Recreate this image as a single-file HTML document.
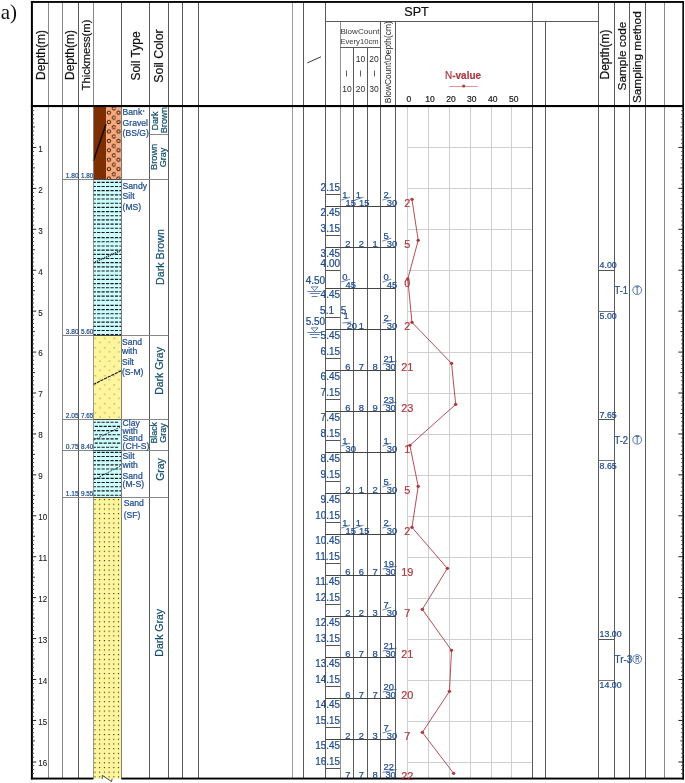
<!DOCTYPE html>
<html lang="en">
<head>
<meta charset="utf-8">
<title>Boring log</title>
<style>
html,body{margin:0;padding:0;background:#fff;}
body{width:685px;height:783px;overflow:hidden;font-family:"Liberation Sans",sans-serif;}
svg{display:block;will-change:transform;font-family:"Liberation Sans",sans-serif;}
svg text{font-family:"Liberation Sans",sans-serif;stroke-width:0.22px;stroke:currentColor;}
</style>
</head>
<body>
<svg width="685" height="783" viewBox="0 0 685 783" shape-rendering="auto">
<defs>
<pattern id="pGravel" x="106" y="103.3" width="9.6" height="9.4" patternUnits="userSpaceOnUse"><rect width="9.6" height="9.4" fill="#f9a97c"/><circle cx="7.9" cy="5.05" r="1.72" fill="none" stroke="#1c0c04" stroke-width="0.9"/><circle cx="2.9" cy="9.4" r="1.72" fill="none" stroke="#1c0c04" stroke-width="0.9"/><circle cx="2.9" cy="0" r="1.72" fill="none" stroke="#1c0c04" stroke-width="0.9"/><circle cx="12.5" cy="9.4" r="1.72" fill="none" stroke="#1c0c04" stroke-width="0.9"/><circle cx="12.5" cy="0" r="1.72" fill="none" stroke="#1c0c04" stroke-width="0.9"/></pattern>
<pattern id="pSandS" x="88.65" y="336.7" width="9.4" height="9.33" patternUnits="userSpaceOnUse"><rect width="9.4" height="9.33" fill="#fff59c"/><rect x="6.2" y="1.25" width="0.95" height="0.95" fill="#5f5a38"/><rect x="1.5" y="5.25" width="0.95" height="0.95" fill="#5f5a38"/></pattern>
<pattern id="pSandF" x="92.6" y="497.15" width="4.72" height="4.70" patternUnits="userSpaceOnUse"><rect width="4.72" height="4.70" fill="#fff59c"/><rect x="1.8" y="1.9" width="1.1" height="1.1" fill="#222"/></pattern>
</defs>
<rect x="0" y="0" width="685" height="783" fill="#fff"/>
<text x="0.8" y="19.1" style="font-family:'Liberation Serif',serif;stroke:none" font-size="21" fill="#111">a)</text>
<line x1="407.5" y1="106" x2="407.5" y2="778.5" stroke="#cfcfcf" stroke-width="1" />
<line x1="428.5" y1="106" x2="428.5" y2="778.5" stroke="#cfcfcf" stroke-width="1" />
<line x1="449.5" y1="106" x2="449.5" y2="778.5" stroke="#cfcfcf" stroke-width="1" />
<line x1="470.5" y1="106" x2="470.5" y2="778.5" stroke="#cfcfcf" stroke-width="1" />
<line x1="491.5" y1="106" x2="491.5" y2="778.5" stroke="#cfcfcf" stroke-width="1" />
<line x1="511.5" y1="106" x2="511.5" y2="778.5" stroke="#cfcfcf" stroke-width="1" />
<line x1="407.8" y1="147.5" x2="532.6" y2="147.5" stroke="#cfcfcf" stroke-width="1" />
<line x1="407.8" y1="188.5" x2="532.6" y2="188.5" stroke="#cfcfcf" stroke-width="1" />
<line x1="407.8" y1="229.5" x2="532.6" y2="229.5" stroke="#cfcfcf" stroke-width="1" />
<line x1="407.8" y1="270.5" x2="532.6" y2="270.5" stroke="#cfcfcf" stroke-width="1" />
<line x1="407.8" y1="311.5" x2="532.6" y2="311.5" stroke="#cfcfcf" stroke-width="1" />
<line x1="407.8" y1="352.5" x2="532.6" y2="352.5" stroke="#cfcfcf" stroke-width="1" />
<line x1="407.8" y1="393.5" x2="532.6" y2="393.5" stroke="#cfcfcf" stroke-width="1" />
<line x1="407.8" y1="434.5" x2="532.6" y2="434.5" stroke="#cfcfcf" stroke-width="1" />
<line x1="407.8" y1="475.5" x2="532.6" y2="475.5" stroke="#cfcfcf" stroke-width="1" />
<line x1="407.8" y1="516.5" x2="532.6" y2="516.5" stroke="#cfcfcf" stroke-width="1" />
<line x1="407.8" y1="557.5" x2="532.6" y2="557.5" stroke="#cfcfcf" stroke-width="1" />
<line x1="407.8" y1="598.5" x2="532.6" y2="598.5" stroke="#cfcfcf" stroke-width="1" />
<line x1="407.8" y1="639.5" x2="532.6" y2="639.5" stroke="#cfcfcf" stroke-width="1" />
<line x1="407.8" y1="680.5" x2="532.6" y2="680.5" stroke="#cfcfcf" stroke-width="1" />
<line x1="407.8" y1="721.5" x2="532.6" y2="721.5" stroke="#cfcfcf" stroke-width="1" />
<line x1="407.8" y1="762.5" x2="532.6" y2="762.5" stroke="#cfcfcf" stroke-width="1" />
<rect x="93.3" y="106" width="12.700000000000003" height="73.6" fill="#7d2e02"/>
<rect x="106.0" y="106" width="15.400000000000006" height="73.6" fill="url(#pGravel)"/>
<line x1="93.3" y1="161.1" x2="106.0" y2="124.3" stroke="#120600" stroke-width="1.45" />
<rect x="93.3" y="179.6" width="28.10000000000001" height="156.00000000000003" fill="#ccffff"/>
<line x1="93.3" y1="182.3" x2="121.25" y2="182.3" stroke="#1a1a1a" stroke-width="1.15" stroke-dasharray="3.2 1.25" stroke-dashoffset="0.65"/>
<line x1="93.3" y1="186.48" x2="121.25" y2="186.48" stroke="#1a1a1a" stroke-width="1.15" stroke-dasharray="3.2 1.25" stroke-dashoffset="0.65"/>
<line x1="93.3" y1="190.66" x2="121.25" y2="190.66" stroke="#1a1a1a" stroke-width="1.15" stroke-dasharray="3.2 1.25" stroke-dashoffset="0.65"/>
<line x1="93.3" y1="194.84" x2="121.25" y2="194.84" stroke="#1a1a1a" stroke-width="1.15" stroke-dasharray="3.2 1.25" stroke-dashoffset="0.65"/>
<line x1="93.3" y1="199.02" x2="121.25" y2="199.02" stroke="#1a1a1a" stroke-width="1.15" stroke-dasharray="3.2 1.25" stroke-dashoffset="0.65"/>
<line x1="93.3" y1="203.2" x2="121.25" y2="203.2" stroke="#1a1a1a" stroke-width="1.15" stroke-dasharray="3.2 1.25" stroke-dashoffset="0.65"/>
<line x1="93.3" y1="207.38" x2="121.25" y2="207.38" stroke="#1a1a1a" stroke-width="1.15" stroke-dasharray="3.2 1.25" stroke-dashoffset="0.65"/>
<line x1="93.3" y1="211.56" x2="121.25" y2="211.56" stroke="#1a1a1a" stroke-width="1.15" stroke-dasharray="3.2 1.25" stroke-dashoffset="0.65"/>
<line x1="93.3" y1="215.74" x2="121.25" y2="215.74" stroke="#1a1a1a" stroke-width="1.15" stroke-dasharray="3.2 1.25" stroke-dashoffset="0.65"/>
<line x1="93.3" y1="219.92" x2="121.25" y2="219.92" stroke="#1a1a1a" stroke-width="1.15" stroke-dasharray="3.2 1.25" stroke-dashoffset="0.65"/>
<line x1="93.3" y1="224.1" x2="121.25" y2="224.1" stroke="#1a1a1a" stroke-width="1.15" stroke-dasharray="3.2 1.25" stroke-dashoffset="0.65"/>
<line x1="93.3" y1="228.28" x2="121.25" y2="228.28" stroke="#1a1a1a" stroke-width="1.15" stroke-dasharray="3.2 1.25" stroke-dashoffset="0.65"/>
<line x1="93.3" y1="232.46" x2="121.25" y2="232.46" stroke="#1a1a1a" stroke-width="1.15" stroke-dasharray="3.2 1.25" stroke-dashoffset="0.65"/>
<line x1="93.3" y1="237.59" x2="121.25" y2="237.59" stroke="#1a1a1a" stroke-width="1.15" stroke-dasharray="3.2 1.25" stroke-dashoffset="0.65"/>
<line x1="93.3" y1="241.77" x2="121.25" y2="241.77" stroke="#1a1a1a" stroke-width="1.15" stroke-dasharray="3.2 1.25" stroke-dashoffset="0.65"/>
<line x1="93.3" y1="245.95" x2="121.25" y2="245.95" stroke="#1a1a1a" stroke-width="1.15" stroke-dasharray="3.2 1.25" stroke-dashoffset="0.65"/>
<line x1="93.3" y1="250.13" x2="121.25" y2="250.13" stroke="#1a1a1a" stroke-width="1.15" stroke-dasharray="3.2 1.25" stroke-dashoffset="0.65"/>
<line x1="93.3" y1="254.31" x2="121.25" y2="254.31" stroke="#1a1a1a" stroke-width="1.15" stroke-dasharray="3.2 1.25" stroke-dashoffset="0.65"/>
<line x1="93.3" y1="258.49" x2="121.25" y2="258.49" stroke="#1a1a1a" stroke-width="1.15" stroke-dasharray="3.2 1.25" stroke-dashoffset="0.65"/>
<line x1="93.3" y1="262.67" x2="121.25" y2="262.67" stroke="#1a1a1a" stroke-width="1.15" stroke-dasharray="3.2 1.25" stroke-dashoffset="0.65"/>
<line x1="93.3" y1="266.85" x2="121.25" y2="266.85" stroke="#1a1a1a" stroke-width="1.15" stroke-dasharray="3.2 1.25" stroke-dashoffset="0.65"/>
<line x1="93.3" y1="271.03" x2="121.25" y2="271.03" stroke="#1a1a1a" stroke-width="1.15" stroke-dasharray="3.2 1.25" stroke-dashoffset="0.65"/>
<line x1="93.3" y1="275.21" x2="121.25" y2="275.21" stroke="#1a1a1a" stroke-width="1.15" stroke-dasharray="3.2 1.25" stroke-dashoffset="0.65"/>
<line x1="93.3" y1="279.39" x2="121.25" y2="279.39" stroke="#1a1a1a" stroke-width="1.15" stroke-dasharray="3.2 1.25" stroke-dashoffset="0.65"/>
<line x1="93.3" y1="283.57" x2="121.25" y2="283.57" stroke="#1a1a1a" stroke-width="1.15" stroke-dasharray="3.2 1.25" stroke-dashoffset="0.65"/>
<line x1="93.3" y1="287.75" x2="121.25" y2="287.75" stroke="#1a1a1a" stroke-width="1.15" stroke-dasharray="3.2 1.25" stroke-dashoffset="0.65"/>
<line x1="93.3" y1="291.93" x2="121.25" y2="291.93" stroke="#1a1a1a" stroke-width="1.15" stroke-dasharray="3.2 1.25" stroke-dashoffset="0.65"/>
<line x1="93.3" y1="296.11" x2="121.25" y2="296.11" stroke="#1a1a1a" stroke-width="1.15" stroke-dasharray="3.2 1.25" stroke-dashoffset="0.65"/>
<line x1="93.3" y1="300.29" x2="121.25" y2="300.29" stroke="#1a1a1a" stroke-width="1.15" stroke-dasharray="3.2 1.25" stroke-dashoffset="0.65"/>
<line x1="93.3" y1="305.42" x2="121.25" y2="305.42" stroke="#1a1a1a" stroke-width="1.15" stroke-dasharray="3.2 1.25" stroke-dashoffset="0.65"/>
<line x1="93.3" y1="309.6" x2="121.25" y2="309.6" stroke="#1a1a1a" stroke-width="1.15" stroke-dasharray="3.2 1.25" stroke-dashoffset="0.65"/>
<line x1="93.3" y1="313.78" x2="121.25" y2="313.78" stroke="#1a1a1a" stroke-width="1.15" stroke-dasharray="3.2 1.25" stroke-dashoffset="0.65"/>
<line x1="93.3" y1="317.96" x2="121.25" y2="317.96" stroke="#1a1a1a" stroke-width="1.15" stroke-dasharray="3.2 1.25" stroke-dashoffset="0.65"/>
<line x1="93.3" y1="322.14" x2="121.25" y2="322.14" stroke="#1a1a1a" stroke-width="1.15" stroke-dasharray="3.2 1.25" stroke-dashoffset="0.65"/>
<line x1="93.3" y1="326.32" x2="121.25" y2="326.32" stroke="#1a1a1a" stroke-width="1.15" stroke-dasharray="3.2 1.25" stroke-dashoffset="0.65"/>
<line x1="93.3" y1="330.5" x2="121.25" y2="330.5" stroke="#1a1a1a" stroke-width="1.15" stroke-dasharray="3.2 1.25" stroke-dashoffset="0.65"/>
<line x1="93.3" y1="334.68" x2="121.25" y2="334.68" stroke="#1a1a1a" stroke-width="1.15" stroke-dasharray="3.2 1.25" stroke-dashoffset="0.65"/>
<line x1="93.3" y1="262.9" x2="121.4" y2="250.2" stroke="#3c4646" stroke-width="1.9" stroke-dasharray="1.1 0.9"/>
<rect x="93.3" y="335.6" width="28.10000000000001" height="84.04999999999995" fill="url(#pSandS)"/>
<line x1="93.3" y1="384.4" x2="121.4" y2="370.6" stroke="#111" stroke-width="1.1" stroke-dasharray="3.2 0.8"/>
<rect x="93.3" y="419.65" width="28.10000000000001" height="30.75" fill="#ccffff"/>
<line x1="93.3" y1="422.2" x2="118.2" y2="422.2" stroke="#1a1a1a" stroke-width="1.15" stroke-dasharray="3.2 1.25" stroke-dashoffset="0.65"/>
<line x1="94.7" y1="426.38" x2="120.3" y2="426.38" stroke="#1a1a1a" stroke-width="1.15" stroke-dasharray="3.2 1.25" stroke-dashoffset="0"/>
<line x1="93.3" y1="430.56" x2="118.2" y2="430.56" stroke="#1a1a1a" stroke-width="1.15" stroke-dasharray="3.2 1.25" stroke-dashoffset="0.65"/>
<line x1="94.7" y1="434.74" x2="120.3" y2="434.74" stroke="#1a1a1a" stroke-width="1.15" stroke-dasharray="3.2 1.25" stroke-dashoffset="0"/>
<line x1="93.3" y1="438.92" x2="118.2" y2="438.92" stroke="#1a1a1a" stroke-width="1.15" stroke-dasharray="3.2 1.25" stroke-dashoffset="0.65"/>
<line x1="94.7" y1="443.1" x2="120.3" y2="443.1" stroke="#1a1a1a" stroke-width="1.15" stroke-dasharray="3.2 1.25" stroke-dashoffset="0"/>
<line x1="93.3" y1="447.28" x2="118.2" y2="447.28" stroke="#1a1a1a" stroke-width="1.15" stroke-dasharray="3.2 1.25" stroke-dashoffset="0.65"/>
<line x1="93.3" y1="440.3" x2="120.0" y2="427.1" stroke="#222" stroke-width="0.8" stroke-dasharray="2.2 1"/>
<rect x="93.3" y="450.4" width="28.10000000000001" height="47.150000000000034" fill="#ccffff"/>
<line x1="93.3" y1="452.4" x2="121.25" y2="452.4" stroke="#1a1a1a" stroke-width="1.15" stroke-dasharray="3.2 1.25" stroke-dashoffset="0.65"/>
<line x1="93.3" y1="456.5" x2="121.25" y2="456.5" stroke="#1a1a1a" stroke-width="1.15" stroke-dasharray="3.2 1.25" stroke-dashoffset="0.65"/>
<line x1="93.3" y1="460.6" x2="121.25" y2="460.6" stroke="#1a1a1a" stroke-width="1.15" stroke-dasharray="3.2 1.25" stroke-dashoffset="0.65"/>
<line x1="93.3" y1="464.8" x2="121.25" y2="464.8" stroke="#1a1a1a" stroke-width="1.15" stroke-dasharray="3.2 1.25" stroke-dashoffset="0.65"/>
<line x1="93.3" y1="469.0" x2="121.25" y2="469.0" stroke="#1a1a1a" stroke-width="1.15" stroke-dasharray="3.2 1.25" stroke-dashoffset="0.65"/>
<line x1="93.3" y1="474.3" x2="121.25" y2="474.3" stroke="#1a1a1a" stroke-width="1.15" stroke-dasharray="3.2 1.25" stroke-dashoffset="0.65"/>
<line x1="93.3" y1="478.4" x2="121.25" y2="478.4" stroke="#1a1a1a" stroke-width="1.15" stroke-dasharray="3.2 1.25" stroke-dashoffset="0.65"/>
<line x1="93.3" y1="482.5" x2="121.25" y2="482.5" stroke="#1a1a1a" stroke-width="1.15" stroke-dasharray="3.2 1.25" stroke-dashoffset="0.65"/>
<line x1="93.3" y1="486.7" x2="121.25" y2="486.7" stroke="#1a1a1a" stroke-width="1.15" stroke-dasharray="3.2 1.25" stroke-dashoffset="0.65"/>
<line x1="93.3" y1="490.9" x2="121.25" y2="490.9" stroke="#1a1a1a" stroke-width="1.15" stroke-dasharray="3.2 1.25" stroke-dashoffset="0.65"/>
<line x1="93.3" y1="495.2" x2="121.25" y2="495.2" stroke="#1a1a1a" stroke-width="1.15" stroke-dasharray="3.2 1.25" stroke-dashoffset="0.65"/>
<line x1="93.3" y1="480.1" x2="120.0" y2="466.3" stroke="#222" stroke-width="0.8" stroke-dasharray="2.2 1"/>
<path d="M93.3,497.55 L121.4,497.55 L121.4,778.7 L112.2,778.7 L111.5,781.6 L102.3,775.4 L102.3,778.7 L93.3,778.7 Z" fill="url(#pSandF)"/>
<path d="M102.3,778.9 L102.3,775.4 L111.5,781.6 L112.2,778.7" fill="none" stroke="#222" stroke-width="0.8"/>
<line x1="93.5" y1="106" x2="93.5" y2="778.5" stroke="#808080" stroke-width="0.8" />
<line x1="121.5" y1="106" x2="121.5" y2="778.5" stroke="#707070" stroke-width="0.9" />
<line x1="78.5" y1="2" x2="78.5" y2="778.5" stroke="#5a5a5a" stroke-width="1" />
<line x1="149.5" y1="2" x2="149.5" y2="778.5" stroke="#5a5a5a" stroke-width="1" />
<line x1="168.5" y1="2" x2="168.5" y2="778.5" stroke="#5a5a5a" stroke-width="1" />
<line x1="182.5" y1="2" x2="182.5" y2="778.5" stroke="#5a5a5a" stroke-width="1" />
<line x1="198.5" y1="2" x2="198.5" y2="778.5" stroke="#5a5a5a" stroke-width="1" />
<line x1="303.5" y1="2" x2="303.5" y2="778.5" stroke="#5a5a5a" stroke-width="1" />
<line x1="325.5" y1="2" x2="325.5" y2="778.5" stroke="#5a5a5a" stroke-width="1" />
<line x1="532.5" y1="2" x2="532.5" y2="778.5" stroke="#5a5a5a" stroke-width="1" />
<line x1="598.5" y1="2" x2="598.5" y2="778.5" stroke="#5a5a5a" stroke-width="1" />
<line x1="614.5" y1="2" x2="614.5" y2="778.5" stroke="#5a5a5a" stroke-width="1" />
<line x1="629.5" y1="2" x2="629.5" y2="778.5" stroke="#5a5a5a" stroke-width="1" />
<line x1="645.5" y1="2" x2="645.5" y2="778.5" stroke="#5a5a5a" stroke-width="1" />
<line x1="48.5" y1="2" x2="48.5" y2="778.5" stroke="#888" stroke-width="1" />
<line x1="62.5" y1="2" x2="62.5" y2="778.5" stroke="#888" stroke-width="1" />
<line x1="664.5" y1="2" x2="664.5" y2="778.5" stroke="#888" stroke-width="1" />
<line x1="292.5" y1="2" x2="292.5" y2="778.5" stroke="#9a9a9a" stroke-width="1" />
<line x1="93.5" y1="2" x2="93.5" y2="106" stroke="#888" stroke-width="1" />
<line x1="121.5" y1="2" x2="121.5" y2="106" stroke="#5a5a5a" stroke-width="1" />
<line x1="340.5" y1="21.4" x2="340.5" y2="778.5" stroke="#909090" stroke-width="1" />
<line x1="380.5" y1="21.4" x2="380.5" y2="778.5" stroke="#5a5a5a" stroke-width="1" />
<line x1="395.5" y1="21.4" x2="395.5" y2="778.5" stroke="#5a5a5a" stroke-width="1" />
<line x1="545.5" y1="21.4" x2="545.5" y2="778.5" stroke="#5a5a5a" stroke-width="1" />
<line x1="353.5" y1="47.3" x2="353.5" y2="778.5" stroke="#5a5a5a" stroke-width="1" />
<line x1="367.5" y1="47.3" x2="367.5" y2="778.5" stroke="#5a5a5a" stroke-width="1" />
<line x1="325.7" y1="21.5" x2="598.7" y2="21.5" stroke="#5a5a5a" stroke-width="1" />
<line x1="340.2" y1="47.5" x2="380.9" y2="47.5" stroke="#5a5a5a" stroke-width="1" />
<rect x="30.9" y="1.05" width="2.0" height="778.4" fill="#000"/>
<rect x="30.9" y="1.05" width="653.0" height="1.85" fill="#000"/>
<rect x="682.35" y="1.05" width="1.6" height="778.4" fill="#000"/>
<rect x="30.9" y="777.6" width="62.4" height="1.9" fill="#000"/>
<rect x="121.4" y="777.6" width="562.5500000000001" height="1.9" fill="#000"/>
<rect x="30.9" y="105.0" width="653.0" height="2.1" fill="#000"/>
<text transform="translate(44.6,55) rotate(-90)" font-size="12" fill="#111" color="#111" text-anchor="middle" >Depth(m)</text>
<text transform="translate(74.2,55) rotate(-90)" font-size="12" fill="#111" color="#111" text-anchor="middle" >Depth(m)</text>
<text transform="translate(90.2,55) rotate(-90)" font-size="11.3" fill="#111" color="#111" text-anchor="middle" >Thickmess(m)</text>
<text transform="translate(139.6,56) rotate(-90)" font-size="12" fill="#111" color="#111" text-anchor="middle" >Soil Type</text>
<text transform="translate(162.6,56) rotate(-90)" font-size="12.3" fill="#111" color="#111" text-anchor="middle" >Soil Color</text>
<text transform="translate(609.3,54.5) rotate(-90)" font-size="12" fill="#111" color="#111" text-anchor="middle" >Depth(m)</text>
<text transform="translate(625.7,56) rotate(-90)" font-size="11.8" fill="#111" color="#111" text-anchor="middle" >Sample code</text>
<text transform="translate(640.8,57.2) rotate(-90)" font-size="11.8" fill="#111" color="#111" text-anchor="middle" >Sampling method</text>
<text x="416.5" y="15.6" font-size="12.6" fill="#111" color="#111" text-anchor="middle" >SPT</text>
<line x1="307.3" y1="62.9" x2="321.0" y2="56.8" stroke="#222" stroke-width="0.9" />
<text x="340.4" y="34.2" font-size="8.1" fill="#3a3a3a" color="#3a3a3a" text-anchor="start" style="stroke:none">BlowCount</text>
<text x="340.4" y="43.5" font-size="8.1" fill="#3a3a3a" color="#3a3a3a" text-anchor="start" textLength="38.2" lengthAdjust="spacingAndGlyphs" style="stroke:none">Every10cm</text>
<line x1="346.5" y1="70.5" x2="346.5" y2="76.5" stroke="#333" stroke-width="0.8" />
<text x="346.9" y="92" font-size="8.5" fill="#2a2a2a" color="#2a2a2a" text-anchor="middle" style="stroke:none">10</text>
<text x="360.4" y="61.9" font-size="8.5" fill="#2a2a2a" color="#2a2a2a" text-anchor="middle" style="stroke:none">10</text>
<line x1="360.5" y1="70.5" x2="360.5" y2="76.5" stroke="#333" stroke-width="0.8" />
<text x="360.4" y="92" font-size="8.5" fill="#2a2a2a" color="#2a2a2a" text-anchor="middle" style="stroke:none">20</text>
<text x="374.1" y="61.9" font-size="8.5" fill="#2a2a2a" color="#2a2a2a" text-anchor="middle" style="stroke:none">20</text>
<line x1="374.5" y1="70.5" x2="374.5" y2="76.5" stroke="#333" stroke-width="0.8" />
<text x="374.1" y="92" font-size="8.5" fill="#2a2a2a" color="#2a2a2a" text-anchor="middle" style="stroke:none">30</text>
<text transform="translate(391.0,62.2) rotate(-90)" font-size="8.4" fill="#2a2a2a" color="#2a2a2a" text-anchor="middle" style="stroke:none">BlowCount\Depth(cm)</text>
<text x="445.1" y="79.4" font-size="11.2" fill="#ad3a40" color="#ad3a40" textLength="35.9" lengthAdjust="spacingAndGlyphs"><tspan>N</tspan><tspan font-weight="bold">-value</tspan></text>
<line x1="449.2" y1="86.5" x2="477.8" y2="86.5" stroke="#d99" stroke-width="1" />
<circle cx="463.7" cy="86" r="1.6" fill="#ad3a40"/>
<text x="408.9" y="102.4" font-size="8.5" fill="#222" color="#222" text-anchor="middle" >0</text>
<text x="429.9" y="102.4" font-size="8.5" fill="#222" color="#222" text-anchor="middle" >10</text>
<text x="450.9" y="102.4" font-size="8.5" fill="#222" color="#222" text-anchor="middle" >20</text>
<text x="471.8" y="102.4" font-size="8.5" fill="#222" color="#222" text-anchor="middle" >30</text>
<text x="492.8" y="102.4" font-size="8.5" fill="#222" color="#222" text-anchor="middle" >40</text>
<text x="513.8" y="102.4" font-size="8.5" fill="#222" color="#222" text-anchor="middle" >50</text>
<line x1="32" y1="110.59" x2="34.1" y2="110.59" stroke="#444" stroke-width="1"/>
<line x1="683.2" y1="110.59" x2="681.2" y2="110.59" stroke="#444" stroke-width="1"/>
<line x1="32" y1="114.69" x2="34.1" y2="114.69" stroke="#444" stroke-width="1"/>
<line x1="683.2" y1="114.69" x2="681.2" y2="114.69" stroke="#444" stroke-width="1"/>
<line x1="32" y1="118.78" x2="34.1" y2="118.78" stroke="#444" stroke-width="1"/>
<line x1="683.2" y1="118.78" x2="681.2" y2="118.78" stroke="#444" stroke-width="1"/>
<line x1="32" y1="122.87" x2="34.1" y2="122.87" stroke="#444" stroke-width="1"/>
<line x1="683.2" y1="122.87" x2="681.2" y2="122.87" stroke="#444" stroke-width="1"/>
<line x1="32" y1="126.97" x2="35.0" y2="126.97" stroke="#333" stroke-width="1"/>
<line x1="683.2" y1="126.97" x2="680.3" y2="126.97" stroke="#333" stroke-width="1"/>
<line x1="32" y1="131.06" x2="34.1" y2="131.06" stroke="#444" stroke-width="1"/>
<line x1="683.2" y1="131.06" x2="681.2" y2="131.06" stroke="#444" stroke-width="1"/>
<line x1="32" y1="135.15" x2="34.1" y2="135.15" stroke="#444" stroke-width="1"/>
<line x1="683.2" y1="135.15" x2="681.2" y2="135.15" stroke="#444" stroke-width="1"/>
<line x1="32" y1="139.24" x2="34.1" y2="139.24" stroke="#444" stroke-width="1"/>
<line x1="683.2" y1="139.24" x2="681.2" y2="139.24" stroke="#444" stroke-width="1"/>
<line x1="32" y1="143.34" x2="34.1" y2="143.34" stroke="#444" stroke-width="1"/>
<line x1="683.2" y1="143.34" x2="681.2" y2="143.34" stroke="#444" stroke-width="1"/>
<line x1="32" y1="147.43" x2="36.2" y2="147.43" stroke="#222" stroke-width="1"/>
<line x1="683.2" y1="147.43" x2="678.4" y2="147.43" stroke="#222" stroke-width="1"/>
<text x="38.3" y="151.83" font-size="8.8" fill="#1a1a1a" color="#1a1a1a" text-anchor="start" textLength="4.5" lengthAdjust="spacingAndGlyphs" style="stroke-width:0.1px">1</text>
<line x1="32" y1="151.52" x2="34.1" y2="151.52" stroke="#444" stroke-width="1"/>
<line x1="683.2" y1="151.52" x2="681.2" y2="151.52" stroke="#444" stroke-width="1"/>
<line x1="32" y1="155.62" x2="34.1" y2="155.62" stroke="#444" stroke-width="1"/>
<line x1="683.2" y1="155.62" x2="681.2" y2="155.62" stroke="#444" stroke-width="1"/>
<line x1="32" y1="159.71" x2="34.1" y2="159.71" stroke="#444" stroke-width="1"/>
<line x1="683.2" y1="159.71" x2="681.2" y2="159.71" stroke="#444" stroke-width="1"/>
<line x1="32" y1="163.8" x2="34.1" y2="163.8" stroke="#444" stroke-width="1"/>
<line x1="683.2" y1="163.8" x2="681.2" y2="163.8" stroke="#444" stroke-width="1"/>
<line x1="32" y1="167.89" x2="35.0" y2="167.89" stroke="#333" stroke-width="1"/>
<line x1="683.2" y1="167.89" x2="680.3" y2="167.89" stroke="#333" stroke-width="1"/>
<line x1="32" y1="171.99" x2="34.1" y2="171.99" stroke="#444" stroke-width="1"/>
<line x1="683.2" y1="171.99" x2="681.2" y2="171.99" stroke="#444" stroke-width="1"/>
<line x1="32" y1="176.08" x2="34.1" y2="176.08" stroke="#444" stroke-width="1"/>
<line x1="683.2" y1="176.08" x2="681.2" y2="176.08" stroke="#444" stroke-width="1"/>
<line x1="32" y1="180.17" x2="34.1" y2="180.17" stroke="#444" stroke-width="1"/>
<line x1="683.2" y1="180.17" x2="681.2" y2="180.17" stroke="#444" stroke-width="1"/>
<line x1="32" y1="184.27" x2="34.1" y2="184.27" stroke="#444" stroke-width="1"/>
<line x1="683.2" y1="184.27" x2="681.2" y2="184.27" stroke="#444" stroke-width="1"/>
<line x1="32" y1="188.36" x2="36.2" y2="188.36" stroke="#222" stroke-width="1"/>
<line x1="683.2" y1="188.36" x2="678.4" y2="188.36" stroke="#222" stroke-width="1"/>
<text x="38.3" y="192.76" font-size="8.8" fill="#1a1a1a" color="#1a1a1a" text-anchor="start" textLength="4.5" lengthAdjust="spacingAndGlyphs" style="stroke-width:0.1px">2</text>
<line x1="32" y1="192.45" x2="34.1" y2="192.45" stroke="#444" stroke-width="1"/>
<line x1="683.2" y1="192.45" x2="681.2" y2="192.45" stroke="#444" stroke-width="1"/>
<line x1="32" y1="196.55" x2="34.1" y2="196.55" stroke="#444" stroke-width="1"/>
<line x1="683.2" y1="196.55" x2="681.2" y2="196.55" stroke="#444" stroke-width="1"/>
<line x1="32" y1="200.64" x2="34.1" y2="200.64" stroke="#444" stroke-width="1"/>
<line x1="683.2" y1="200.64" x2="681.2" y2="200.64" stroke="#444" stroke-width="1"/>
<line x1="32" y1="204.73" x2="34.1" y2="204.73" stroke="#444" stroke-width="1"/>
<line x1="683.2" y1="204.73" x2="681.2" y2="204.73" stroke="#444" stroke-width="1"/>
<line x1="32" y1="208.82" x2="35.0" y2="208.82" stroke="#333" stroke-width="1"/>
<line x1="683.2" y1="208.82" x2="680.3" y2="208.82" stroke="#333" stroke-width="1"/>
<line x1="32" y1="212.92" x2="34.1" y2="212.92" stroke="#444" stroke-width="1"/>
<line x1="683.2" y1="212.92" x2="681.2" y2="212.92" stroke="#444" stroke-width="1"/>
<line x1="32" y1="217.01" x2="34.1" y2="217.01" stroke="#444" stroke-width="1"/>
<line x1="683.2" y1="217.01" x2="681.2" y2="217.01" stroke="#444" stroke-width="1"/>
<line x1="32" y1="221.1" x2="34.1" y2="221.1" stroke="#444" stroke-width="1"/>
<line x1="683.2" y1="221.1" x2="681.2" y2="221.1" stroke="#444" stroke-width="1"/>
<line x1="32" y1="225.2" x2="34.1" y2="225.2" stroke="#444" stroke-width="1"/>
<line x1="683.2" y1="225.2" x2="681.2" y2="225.2" stroke="#444" stroke-width="1"/>
<line x1="32" y1="229.29" x2="36.2" y2="229.29" stroke="#222" stroke-width="1"/>
<line x1="683.2" y1="229.29" x2="678.4" y2="229.29" stroke="#222" stroke-width="1"/>
<text x="38.3" y="233.69" font-size="8.8" fill="#1a1a1a" color="#1a1a1a" text-anchor="start" textLength="4.5" lengthAdjust="spacingAndGlyphs" style="stroke-width:0.1px">3</text>
<line x1="32" y1="233.38" x2="34.1" y2="233.38" stroke="#444" stroke-width="1"/>
<line x1="683.2" y1="233.38" x2="681.2" y2="233.38" stroke="#444" stroke-width="1"/>
<line x1="32" y1="237.48" x2="34.1" y2="237.48" stroke="#444" stroke-width="1"/>
<line x1="683.2" y1="237.48" x2="681.2" y2="237.48" stroke="#444" stroke-width="1"/>
<line x1="32" y1="241.57" x2="34.1" y2="241.57" stroke="#444" stroke-width="1"/>
<line x1="683.2" y1="241.57" x2="681.2" y2="241.57" stroke="#444" stroke-width="1"/>
<line x1="32" y1="245.66" x2="34.1" y2="245.66" stroke="#444" stroke-width="1"/>
<line x1="683.2" y1="245.66" x2="681.2" y2="245.66" stroke="#444" stroke-width="1"/>
<line x1="32" y1="249.75" x2="35.0" y2="249.75" stroke="#333" stroke-width="1"/>
<line x1="683.2" y1="249.75" x2="680.3" y2="249.75" stroke="#333" stroke-width="1"/>
<line x1="32" y1="253.85" x2="34.1" y2="253.85" stroke="#444" stroke-width="1"/>
<line x1="683.2" y1="253.85" x2="681.2" y2="253.85" stroke="#444" stroke-width="1"/>
<line x1="32" y1="257.94" x2="34.1" y2="257.94" stroke="#444" stroke-width="1"/>
<line x1="683.2" y1="257.94" x2="681.2" y2="257.94" stroke="#444" stroke-width="1"/>
<line x1="32" y1="262.03" x2="34.1" y2="262.03" stroke="#444" stroke-width="1"/>
<line x1="683.2" y1="262.03" x2="681.2" y2="262.03" stroke="#444" stroke-width="1"/>
<line x1="32" y1="266.13" x2="34.1" y2="266.13" stroke="#444" stroke-width="1"/>
<line x1="683.2" y1="266.13" x2="681.2" y2="266.13" stroke="#444" stroke-width="1"/>
<line x1="32" y1="270.22" x2="36.2" y2="270.22" stroke="#222" stroke-width="1"/>
<line x1="683.2" y1="270.22" x2="678.4" y2="270.22" stroke="#222" stroke-width="1"/>
<text x="38.3" y="274.62" font-size="8.8" fill="#1a1a1a" color="#1a1a1a" text-anchor="start" textLength="4.5" lengthAdjust="spacingAndGlyphs" style="stroke-width:0.1px">4</text>
<line x1="32" y1="274.31" x2="34.1" y2="274.31" stroke="#444" stroke-width="1"/>
<line x1="683.2" y1="274.31" x2="681.2" y2="274.31" stroke="#444" stroke-width="1"/>
<line x1="32" y1="278.41" x2="34.1" y2="278.41" stroke="#444" stroke-width="1"/>
<line x1="683.2" y1="278.41" x2="681.2" y2="278.41" stroke="#444" stroke-width="1"/>
<line x1="32" y1="282.5" x2="34.1" y2="282.5" stroke="#444" stroke-width="1"/>
<line x1="683.2" y1="282.5" x2="681.2" y2="282.5" stroke="#444" stroke-width="1"/>
<line x1="32" y1="286.59" x2="34.1" y2="286.59" stroke="#444" stroke-width="1"/>
<line x1="683.2" y1="286.59" x2="681.2" y2="286.59" stroke="#444" stroke-width="1"/>
<line x1="32" y1="290.69" x2="35.0" y2="290.69" stroke="#333" stroke-width="1"/>
<line x1="683.2" y1="290.69" x2="680.3" y2="290.69" stroke="#333" stroke-width="1"/>
<line x1="32" y1="294.78" x2="34.1" y2="294.78" stroke="#444" stroke-width="1"/>
<line x1="683.2" y1="294.78" x2="681.2" y2="294.78" stroke="#444" stroke-width="1"/>
<line x1="32" y1="298.87" x2="34.1" y2="298.87" stroke="#444" stroke-width="1"/>
<line x1="683.2" y1="298.87" x2="681.2" y2="298.87" stroke="#444" stroke-width="1"/>
<line x1="32" y1="302.96" x2="34.1" y2="302.96" stroke="#444" stroke-width="1"/>
<line x1="683.2" y1="302.96" x2="681.2" y2="302.96" stroke="#444" stroke-width="1"/>
<line x1="32" y1="307.06" x2="34.1" y2="307.06" stroke="#444" stroke-width="1"/>
<line x1="683.2" y1="307.06" x2="681.2" y2="307.06" stroke="#444" stroke-width="1"/>
<line x1="32" y1="311.15" x2="36.2" y2="311.15" stroke="#222" stroke-width="1"/>
<line x1="683.2" y1="311.15" x2="678.4" y2="311.15" stroke="#222" stroke-width="1"/>
<text x="38.3" y="315.55" font-size="8.8" fill="#1a1a1a" color="#1a1a1a" text-anchor="start" textLength="4.5" lengthAdjust="spacingAndGlyphs" style="stroke-width:0.1px">5</text>
<line x1="32" y1="315.24" x2="34.1" y2="315.24" stroke="#444" stroke-width="1"/>
<line x1="683.2" y1="315.24" x2="681.2" y2="315.24" stroke="#444" stroke-width="1"/>
<line x1="32" y1="319.34" x2="34.1" y2="319.34" stroke="#444" stroke-width="1"/>
<line x1="683.2" y1="319.34" x2="681.2" y2="319.34" stroke="#444" stroke-width="1"/>
<line x1="32" y1="323.43" x2="34.1" y2="323.43" stroke="#444" stroke-width="1"/>
<line x1="683.2" y1="323.43" x2="681.2" y2="323.43" stroke="#444" stroke-width="1"/>
<line x1="32" y1="327.52" x2="34.1" y2="327.52" stroke="#444" stroke-width="1"/>
<line x1="683.2" y1="327.52" x2="681.2" y2="327.52" stroke="#444" stroke-width="1"/>
<line x1="32" y1="331.62" x2="35.0" y2="331.62" stroke="#333" stroke-width="1"/>
<line x1="683.2" y1="331.62" x2="680.3" y2="331.62" stroke="#333" stroke-width="1"/>
<line x1="32" y1="335.71" x2="34.1" y2="335.71" stroke="#444" stroke-width="1"/>
<line x1="683.2" y1="335.71" x2="681.2" y2="335.71" stroke="#444" stroke-width="1"/>
<line x1="32" y1="339.8" x2="34.1" y2="339.8" stroke="#444" stroke-width="1"/>
<line x1="683.2" y1="339.8" x2="681.2" y2="339.8" stroke="#444" stroke-width="1"/>
<line x1="32" y1="343.89" x2="34.1" y2="343.89" stroke="#444" stroke-width="1"/>
<line x1="683.2" y1="343.89" x2="681.2" y2="343.89" stroke="#444" stroke-width="1"/>
<line x1="32" y1="347.99" x2="34.1" y2="347.99" stroke="#444" stroke-width="1"/>
<line x1="683.2" y1="347.99" x2="681.2" y2="347.99" stroke="#444" stroke-width="1"/>
<line x1="32" y1="352.08" x2="36.2" y2="352.08" stroke="#222" stroke-width="1"/>
<line x1="683.2" y1="352.08" x2="678.4" y2="352.08" stroke="#222" stroke-width="1"/>
<text x="38.3" y="356.48" font-size="8.8" fill="#1a1a1a" color="#1a1a1a" text-anchor="start" textLength="4.5" lengthAdjust="spacingAndGlyphs" style="stroke-width:0.1px">6</text>
<line x1="32" y1="356.17" x2="34.1" y2="356.17" stroke="#444" stroke-width="1"/>
<line x1="683.2" y1="356.17" x2="681.2" y2="356.17" stroke="#444" stroke-width="1"/>
<line x1="32" y1="360.27" x2="34.1" y2="360.27" stroke="#444" stroke-width="1"/>
<line x1="683.2" y1="360.27" x2="681.2" y2="360.27" stroke="#444" stroke-width="1"/>
<line x1="32" y1="364.36" x2="34.1" y2="364.36" stroke="#444" stroke-width="1"/>
<line x1="683.2" y1="364.36" x2="681.2" y2="364.36" stroke="#444" stroke-width="1"/>
<line x1="32" y1="368.45" x2="34.1" y2="368.45" stroke="#444" stroke-width="1"/>
<line x1="683.2" y1="368.45" x2="681.2" y2="368.45" stroke="#444" stroke-width="1"/>
<line x1="32" y1="372.55" x2="35.0" y2="372.55" stroke="#333" stroke-width="1"/>
<line x1="683.2" y1="372.55" x2="680.3" y2="372.55" stroke="#333" stroke-width="1"/>
<line x1="32" y1="376.64" x2="34.1" y2="376.64" stroke="#444" stroke-width="1"/>
<line x1="683.2" y1="376.64" x2="681.2" y2="376.64" stroke="#444" stroke-width="1"/>
<line x1="32" y1="380.73" x2="34.1" y2="380.73" stroke="#444" stroke-width="1"/>
<line x1="683.2" y1="380.73" x2="681.2" y2="380.73" stroke="#444" stroke-width="1"/>
<line x1="32" y1="384.82" x2="34.1" y2="384.82" stroke="#444" stroke-width="1"/>
<line x1="683.2" y1="384.82" x2="681.2" y2="384.82" stroke="#444" stroke-width="1"/>
<line x1="32" y1="388.92" x2="34.1" y2="388.92" stroke="#444" stroke-width="1"/>
<line x1="683.2" y1="388.92" x2="681.2" y2="388.92" stroke="#444" stroke-width="1"/>
<line x1="32" y1="393.01" x2="36.2" y2="393.01" stroke="#222" stroke-width="1"/>
<line x1="683.2" y1="393.01" x2="678.4" y2="393.01" stroke="#222" stroke-width="1"/>
<text x="38.3" y="397.41" font-size="8.8" fill="#1a1a1a" color="#1a1a1a" text-anchor="start" textLength="4.5" lengthAdjust="spacingAndGlyphs" style="stroke-width:0.1px">7</text>
<line x1="32" y1="397.1" x2="34.1" y2="397.1" stroke="#444" stroke-width="1"/>
<line x1="683.2" y1="397.1" x2="681.2" y2="397.1" stroke="#444" stroke-width="1"/>
<line x1="32" y1="401.2" x2="34.1" y2="401.2" stroke="#444" stroke-width="1"/>
<line x1="683.2" y1="401.2" x2="681.2" y2="401.2" stroke="#444" stroke-width="1"/>
<line x1="32" y1="405.29" x2="34.1" y2="405.29" stroke="#444" stroke-width="1"/>
<line x1="683.2" y1="405.29" x2="681.2" y2="405.29" stroke="#444" stroke-width="1"/>
<line x1="32" y1="409.38" x2="34.1" y2="409.38" stroke="#444" stroke-width="1"/>
<line x1="683.2" y1="409.38" x2="681.2" y2="409.38" stroke="#444" stroke-width="1"/>
<line x1="32" y1="413.48" x2="35.0" y2="413.48" stroke="#333" stroke-width="1"/>
<line x1="683.2" y1="413.48" x2="680.3" y2="413.48" stroke="#333" stroke-width="1"/>
<line x1="32" y1="417.57" x2="34.1" y2="417.57" stroke="#444" stroke-width="1"/>
<line x1="683.2" y1="417.57" x2="681.2" y2="417.57" stroke="#444" stroke-width="1"/>
<line x1="32" y1="421.66" x2="34.1" y2="421.66" stroke="#444" stroke-width="1"/>
<line x1="683.2" y1="421.66" x2="681.2" y2="421.66" stroke="#444" stroke-width="1"/>
<line x1="32" y1="425.75" x2="34.1" y2="425.75" stroke="#444" stroke-width="1"/>
<line x1="683.2" y1="425.75" x2="681.2" y2="425.75" stroke="#444" stroke-width="1"/>
<line x1="32" y1="429.85" x2="34.1" y2="429.85" stroke="#444" stroke-width="1"/>
<line x1="683.2" y1="429.85" x2="681.2" y2="429.85" stroke="#444" stroke-width="1"/>
<line x1="32" y1="433.94" x2="36.2" y2="433.94" stroke="#222" stroke-width="1"/>
<line x1="683.2" y1="433.94" x2="678.4" y2="433.94" stroke="#222" stroke-width="1"/>
<text x="38.3" y="438.34" font-size="8.8" fill="#1a1a1a" color="#1a1a1a" text-anchor="start" textLength="4.5" lengthAdjust="spacingAndGlyphs" style="stroke-width:0.1px">8</text>
<line x1="32" y1="438.03" x2="34.1" y2="438.03" stroke="#444" stroke-width="1"/>
<line x1="683.2" y1="438.03" x2="681.2" y2="438.03" stroke="#444" stroke-width="1"/>
<line x1="32" y1="442.13" x2="34.1" y2="442.13" stroke="#444" stroke-width="1"/>
<line x1="683.2" y1="442.13" x2="681.2" y2="442.13" stroke="#444" stroke-width="1"/>
<line x1="32" y1="446.22" x2="34.1" y2="446.22" stroke="#444" stroke-width="1"/>
<line x1="683.2" y1="446.22" x2="681.2" y2="446.22" stroke="#444" stroke-width="1"/>
<line x1="32" y1="450.31" x2="34.1" y2="450.31" stroke="#444" stroke-width="1"/>
<line x1="683.2" y1="450.31" x2="681.2" y2="450.31" stroke="#444" stroke-width="1"/>
<line x1="32" y1="454.4" x2="35.0" y2="454.4" stroke="#333" stroke-width="1"/>
<line x1="683.2" y1="454.4" x2="680.3" y2="454.4" stroke="#333" stroke-width="1"/>
<line x1="32" y1="458.5" x2="34.1" y2="458.5" stroke="#444" stroke-width="1"/>
<line x1="683.2" y1="458.5" x2="681.2" y2="458.5" stroke="#444" stroke-width="1"/>
<line x1="32" y1="462.59" x2="34.1" y2="462.59" stroke="#444" stroke-width="1"/>
<line x1="683.2" y1="462.59" x2="681.2" y2="462.59" stroke="#444" stroke-width="1"/>
<line x1="32" y1="466.68" x2="34.1" y2="466.68" stroke="#444" stroke-width="1"/>
<line x1="683.2" y1="466.68" x2="681.2" y2="466.68" stroke="#444" stroke-width="1"/>
<line x1="32" y1="470.78" x2="34.1" y2="470.78" stroke="#444" stroke-width="1"/>
<line x1="683.2" y1="470.78" x2="681.2" y2="470.78" stroke="#444" stroke-width="1"/>
<line x1="32" y1="474.87" x2="36.2" y2="474.87" stroke="#222" stroke-width="1"/>
<line x1="683.2" y1="474.87" x2="678.4" y2="474.87" stroke="#222" stroke-width="1"/>
<text x="38.3" y="479.27" font-size="8.8" fill="#1a1a1a" color="#1a1a1a" text-anchor="start" textLength="4.5" lengthAdjust="spacingAndGlyphs" style="stroke-width:0.1px">9</text>
<line x1="32" y1="478.96" x2="34.1" y2="478.96" stroke="#444" stroke-width="1"/>
<line x1="683.2" y1="478.96" x2="681.2" y2="478.96" stroke="#444" stroke-width="1"/>
<line x1="32" y1="483.06" x2="34.1" y2="483.06" stroke="#444" stroke-width="1"/>
<line x1="683.2" y1="483.06" x2="681.2" y2="483.06" stroke="#444" stroke-width="1"/>
<line x1="32" y1="487.15" x2="34.1" y2="487.15" stroke="#444" stroke-width="1"/>
<line x1="683.2" y1="487.15" x2="681.2" y2="487.15" stroke="#444" stroke-width="1"/>
<line x1="32" y1="491.24" x2="34.1" y2="491.24" stroke="#444" stroke-width="1"/>
<line x1="683.2" y1="491.24" x2="681.2" y2="491.24" stroke="#444" stroke-width="1"/>
<line x1="32" y1="495.33" x2="35.0" y2="495.33" stroke="#333" stroke-width="1"/>
<line x1="683.2" y1="495.33" x2="680.3" y2="495.33" stroke="#333" stroke-width="1"/>
<line x1="32" y1="499.43" x2="34.1" y2="499.43" stroke="#444" stroke-width="1"/>
<line x1="683.2" y1="499.43" x2="681.2" y2="499.43" stroke="#444" stroke-width="1"/>
<line x1="32" y1="503.52" x2="34.1" y2="503.52" stroke="#444" stroke-width="1"/>
<line x1="683.2" y1="503.52" x2="681.2" y2="503.52" stroke="#444" stroke-width="1"/>
<line x1="32" y1="507.61" x2="34.1" y2="507.61" stroke="#444" stroke-width="1"/>
<line x1="683.2" y1="507.61" x2="681.2" y2="507.61" stroke="#444" stroke-width="1"/>
<line x1="32" y1="511.71" x2="34.1" y2="511.71" stroke="#444" stroke-width="1"/>
<line x1="683.2" y1="511.71" x2="681.2" y2="511.71" stroke="#444" stroke-width="1"/>
<line x1="32" y1="515.8" x2="36.2" y2="515.8" stroke="#222" stroke-width="1"/>
<line x1="683.2" y1="515.8" x2="678.4" y2="515.8" stroke="#222" stroke-width="1"/>
<text x="38.3" y="520.2" font-size="8.8" fill="#1a1a1a" color="#1a1a1a" text-anchor="start" textLength="8.9" lengthAdjust="spacingAndGlyphs" style="stroke-width:0.1px">10</text>
<line x1="32" y1="519.89" x2="34.1" y2="519.89" stroke="#444" stroke-width="1"/>
<line x1="683.2" y1="519.89" x2="681.2" y2="519.89" stroke="#444" stroke-width="1"/>
<line x1="32" y1="523.99" x2="34.1" y2="523.99" stroke="#444" stroke-width="1"/>
<line x1="683.2" y1="523.99" x2="681.2" y2="523.99" stroke="#444" stroke-width="1"/>
<line x1="32" y1="528.08" x2="34.1" y2="528.08" stroke="#444" stroke-width="1"/>
<line x1="683.2" y1="528.08" x2="681.2" y2="528.08" stroke="#444" stroke-width="1"/>
<line x1="32" y1="532.17" x2="34.1" y2="532.17" stroke="#444" stroke-width="1"/>
<line x1="683.2" y1="532.17" x2="681.2" y2="532.17" stroke="#444" stroke-width="1"/>
<line x1="32" y1="536.26" x2="35.0" y2="536.26" stroke="#333" stroke-width="1"/>
<line x1="683.2" y1="536.26" x2="680.3" y2="536.26" stroke="#333" stroke-width="1"/>
<line x1="32" y1="540.36" x2="34.1" y2="540.36" stroke="#444" stroke-width="1"/>
<line x1="683.2" y1="540.36" x2="681.2" y2="540.36" stroke="#444" stroke-width="1"/>
<line x1="32" y1="544.45" x2="34.1" y2="544.45" stroke="#444" stroke-width="1"/>
<line x1="683.2" y1="544.45" x2="681.2" y2="544.45" stroke="#444" stroke-width="1"/>
<line x1="32" y1="548.54" x2="34.1" y2="548.54" stroke="#444" stroke-width="1"/>
<line x1="683.2" y1="548.54" x2="681.2" y2="548.54" stroke="#444" stroke-width="1"/>
<line x1="32" y1="552.64" x2="34.1" y2="552.64" stroke="#444" stroke-width="1"/>
<line x1="683.2" y1="552.64" x2="681.2" y2="552.64" stroke="#444" stroke-width="1"/>
<line x1="32" y1="556.73" x2="36.2" y2="556.73" stroke="#222" stroke-width="1"/>
<line x1="683.2" y1="556.73" x2="678.4" y2="556.73" stroke="#222" stroke-width="1"/>
<text x="38.3" y="561.13" font-size="8.8" fill="#1a1a1a" color="#1a1a1a" text-anchor="start" textLength="8.9" lengthAdjust="spacingAndGlyphs" style="stroke-width:0.1px">11</text>
<line x1="32" y1="560.82" x2="34.1" y2="560.82" stroke="#444" stroke-width="1"/>
<line x1="683.2" y1="560.82" x2="681.2" y2="560.82" stroke="#444" stroke-width="1"/>
<line x1="32" y1="564.92" x2="34.1" y2="564.92" stroke="#444" stroke-width="1"/>
<line x1="683.2" y1="564.92" x2="681.2" y2="564.92" stroke="#444" stroke-width="1"/>
<line x1="32" y1="569.01" x2="34.1" y2="569.01" stroke="#444" stroke-width="1"/>
<line x1="683.2" y1="569.01" x2="681.2" y2="569.01" stroke="#444" stroke-width="1"/>
<line x1="32" y1="573.1" x2="34.1" y2="573.1" stroke="#444" stroke-width="1"/>
<line x1="683.2" y1="573.1" x2="681.2" y2="573.1" stroke="#444" stroke-width="1"/>
<line x1="32" y1="577.19" x2="35.0" y2="577.19" stroke="#333" stroke-width="1"/>
<line x1="683.2" y1="577.19" x2="680.3" y2="577.19" stroke="#333" stroke-width="1"/>
<line x1="32" y1="581.29" x2="34.1" y2="581.29" stroke="#444" stroke-width="1"/>
<line x1="683.2" y1="581.29" x2="681.2" y2="581.29" stroke="#444" stroke-width="1"/>
<line x1="32" y1="585.38" x2="34.1" y2="585.38" stroke="#444" stroke-width="1"/>
<line x1="683.2" y1="585.38" x2="681.2" y2="585.38" stroke="#444" stroke-width="1"/>
<line x1="32" y1="589.47" x2="34.1" y2="589.47" stroke="#444" stroke-width="1"/>
<line x1="683.2" y1="589.47" x2="681.2" y2="589.47" stroke="#444" stroke-width="1"/>
<line x1="32" y1="593.57" x2="34.1" y2="593.57" stroke="#444" stroke-width="1"/>
<line x1="683.2" y1="593.57" x2="681.2" y2="593.57" stroke="#444" stroke-width="1"/>
<line x1="32" y1="597.66" x2="36.2" y2="597.66" stroke="#222" stroke-width="1"/>
<line x1="683.2" y1="597.66" x2="678.4" y2="597.66" stroke="#222" stroke-width="1"/>
<text x="38.3" y="602.06" font-size="8.8" fill="#1a1a1a" color="#1a1a1a" text-anchor="start" textLength="8.9" lengthAdjust="spacingAndGlyphs" style="stroke-width:0.1px">12</text>
<line x1="32" y1="601.75" x2="34.1" y2="601.75" stroke="#444" stroke-width="1"/>
<line x1="683.2" y1="601.75" x2="681.2" y2="601.75" stroke="#444" stroke-width="1"/>
<line x1="32" y1="605.85" x2="34.1" y2="605.85" stroke="#444" stroke-width="1"/>
<line x1="683.2" y1="605.85" x2="681.2" y2="605.85" stroke="#444" stroke-width="1"/>
<line x1="32" y1="609.94" x2="34.1" y2="609.94" stroke="#444" stroke-width="1"/>
<line x1="683.2" y1="609.94" x2="681.2" y2="609.94" stroke="#444" stroke-width="1"/>
<line x1="32" y1="614.03" x2="34.1" y2="614.03" stroke="#444" stroke-width="1"/>
<line x1="683.2" y1="614.03" x2="681.2" y2="614.03" stroke="#444" stroke-width="1"/>
<line x1="32" y1="618.12" x2="35.0" y2="618.12" stroke="#333" stroke-width="1"/>
<line x1="683.2" y1="618.12" x2="680.3" y2="618.12" stroke="#333" stroke-width="1"/>
<line x1="32" y1="622.22" x2="34.1" y2="622.22" stroke="#444" stroke-width="1"/>
<line x1="683.2" y1="622.22" x2="681.2" y2="622.22" stroke="#444" stroke-width="1"/>
<line x1="32" y1="626.31" x2="34.1" y2="626.31" stroke="#444" stroke-width="1"/>
<line x1="683.2" y1="626.31" x2="681.2" y2="626.31" stroke="#444" stroke-width="1"/>
<line x1="32" y1="630.4" x2="34.1" y2="630.4" stroke="#444" stroke-width="1"/>
<line x1="683.2" y1="630.4" x2="681.2" y2="630.4" stroke="#444" stroke-width="1"/>
<line x1="32" y1="634.5" x2="34.1" y2="634.5" stroke="#444" stroke-width="1"/>
<line x1="683.2" y1="634.5" x2="681.2" y2="634.5" stroke="#444" stroke-width="1"/>
<line x1="32" y1="638.59" x2="36.2" y2="638.59" stroke="#222" stroke-width="1"/>
<line x1="683.2" y1="638.59" x2="678.4" y2="638.59" stroke="#222" stroke-width="1"/>
<text x="38.3" y="642.99" font-size="8.8" fill="#1a1a1a" color="#1a1a1a" text-anchor="start" textLength="8.9" lengthAdjust="spacingAndGlyphs" style="stroke-width:0.1px">13</text>
<line x1="32" y1="642.68" x2="34.1" y2="642.68" stroke="#444" stroke-width="1"/>
<line x1="683.2" y1="642.68" x2="681.2" y2="642.68" stroke="#444" stroke-width="1"/>
<line x1="32" y1="646.78" x2="34.1" y2="646.78" stroke="#444" stroke-width="1"/>
<line x1="683.2" y1="646.78" x2="681.2" y2="646.78" stroke="#444" stroke-width="1"/>
<line x1="32" y1="650.87" x2="34.1" y2="650.87" stroke="#444" stroke-width="1"/>
<line x1="683.2" y1="650.87" x2="681.2" y2="650.87" stroke="#444" stroke-width="1"/>
<line x1="32" y1="654.96" x2="34.1" y2="654.96" stroke="#444" stroke-width="1"/>
<line x1="683.2" y1="654.96" x2="681.2" y2="654.96" stroke="#444" stroke-width="1"/>
<line x1="32" y1="659.05" x2="35.0" y2="659.05" stroke="#333" stroke-width="1"/>
<line x1="683.2" y1="659.05" x2="680.3" y2="659.05" stroke="#333" stroke-width="1"/>
<line x1="32" y1="663.15" x2="34.1" y2="663.15" stroke="#444" stroke-width="1"/>
<line x1="683.2" y1="663.15" x2="681.2" y2="663.15" stroke="#444" stroke-width="1"/>
<line x1="32" y1="667.24" x2="34.1" y2="667.24" stroke="#444" stroke-width="1"/>
<line x1="683.2" y1="667.24" x2="681.2" y2="667.24" stroke="#444" stroke-width="1"/>
<line x1="32" y1="671.33" x2="34.1" y2="671.33" stroke="#444" stroke-width="1"/>
<line x1="683.2" y1="671.33" x2="681.2" y2="671.33" stroke="#444" stroke-width="1"/>
<line x1="32" y1="675.43" x2="34.1" y2="675.43" stroke="#444" stroke-width="1"/>
<line x1="683.2" y1="675.43" x2="681.2" y2="675.43" stroke="#444" stroke-width="1"/>
<line x1="32" y1="679.52" x2="36.2" y2="679.52" stroke="#222" stroke-width="1"/>
<line x1="683.2" y1="679.52" x2="678.4" y2="679.52" stroke="#222" stroke-width="1"/>
<text x="38.3" y="683.92" font-size="8.8" fill="#1a1a1a" color="#1a1a1a" text-anchor="start" textLength="8.9" lengthAdjust="spacingAndGlyphs" style="stroke-width:0.1px">14</text>
<line x1="32" y1="683.61" x2="34.1" y2="683.61" stroke="#444" stroke-width="1"/>
<line x1="683.2" y1="683.61" x2="681.2" y2="683.61" stroke="#444" stroke-width="1"/>
<line x1="32" y1="687.71" x2="34.1" y2="687.71" stroke="#444" stroke-width="1"/>
<line x1="683.2" y1="687.71" x2="681.2" y2="687.71" stroke="#444" stroke-width="1"/>
<line x1="32" y1="691.8" x2="34.1" y2="691.8" stroke="#444" stroke-width="1"/>
<line x1="683.2" y1="691.8" x2="681.2" y2="691.8" stroke="#444" stroke-width="1"/>
<line x1="32" y1="695.89" x2="34.1" y2="695.89" stroke="#444" stroke-width="1"/>
<line x1="683.2" y1="695.89" x2="681.2" y2="695.89" stroke="#444" stroke-width="1"/>
<line x1="32" y1="699.99" x2="35.0" y2="699.99" stroke="#333" stroke-width="1"/>
<line x1="683.2" y1="699.99" x2="680.3" y2="699.99" stroke="#333" stroke-width="1"/>
<line x1="32" y1="704.08" x2="34.1" y2="704.08" stroke="#444" stroke-width="1"/>
<line x1="683.2" y1="704.08" x2="681.2" y2="704.08" stroke="#444" stroke-width="1"/>
<line x1="32" y1="708.17" x2="34.1" y2="708.17" stroke="#444" stroke-width="1"/>
<line x1="683.2" y1="708.17" x2="681.2" y2="708.17" stroke="#444" stroke-width="1"/>
<line x1="32" y1="712.26" x2="34.1" y2="712.26" stroke="#444" stroke-width="1"/>
<line x1="683.2" y1="712.26" x2="681.2" y2="712.26" stroke="#444" stroke-width="1"/>
<line x1="32" y1="716.36" x2="34.1" y2="716.36" stroke="#444" stroke-width="1"/>
<line x1="683.2" y1="716.36" x2="681.2" y2="716.36" stroke="#444" stroke-width="1"/>
<line x1="32" y1="720.45" x2="36.2" y2="720.45" stroke="#222" stroke-width="1"/>
<line x1="683.2" y1="720.45" x2="678.4" y2="720.45" stroke="#222" stroke-width="1"/>
<text x="38.3" y="724.85" font-size="8.8" fill="#1a1a1a" color="#1a1a1a" text-anchor="start" textLength="8.9" lengthAdjust="spacingAndGlyphs" style="stroke-width:0.1px">15</text>
<line x1="32" y1="724.54" x2="34.1" y2="724.54" stroke="#444" stroke-width="1"/>
<line x1="683.2" y1="724.54" x2="681.2" y2="724.54" stroke="#444" stroke-width="1"/>
<line x1="32" y1="728.64" x2="34.1" y2="728.64" stroke="#444" stroke-width="1"/>
<line x1="683.2" y1="728.64" x2="681.2" y2="728.64" stroke="#444" stroke-width="1"/>
<line x1="32" y1="732.73" x2="34.1" y2="732.73" stroke="#444" stroke-width="1"/>
<line x1="683.2" y1="732.73" x2="681.2" y2="732.73" stroke="#444" stroke-width="1"/>
<line x1="32" y1="736.82" x2="34.1" y2="736.82" stroke="#444" stroke-width="1"/>
<line x1="683.2" y1="736.82" x2="681.2" y2="736.82" stroke="#444" stroke-width="1"/>
<line x1="32" y1="740.91" x2="35.0" y2="740.91" stroke="#333" stroke-width="1"/>
<line x1="683.2" y1="740.91" x2="680.3" y2="740.91" stroke="#333" stroke-width="1"/>
<line x1="32" y1="745.01" x2="34.1" y2="745.01" stroke="#444" stroke-width="1"/>
<line x1="683.2" y1="745.01" x2="681.2" y2="745.01" stroke="#444" stroke-width="1"/>
<line x1="32" y1="749.1" x2="34.1" y2="749.1" stroke="#444" stroke-width="1"/>
<line x1="683.2" y1="749.1" x2="681.2" y2="749.1" stroke="#444" stroke-width="1"/>
<line x1="32" y1="753.19" x2="34.1" y2="753.19" stroke="#444" stroke-width="1"/>
<line x1="683.2" y1="753.19" x2="681.2" y2="753.19" stroke="#444" stroke-width="1"/>
<line x1="32" y1="757.29" x2="34.1" y2="757.29" stroke="#444" stroke-width="1"/>
<line x1="683.2" y1="757.29" x2="681.2" y2="757.29" stroke="#444" stroke-width="1"/>
<line x1="32" y1="762.0" x2="36.2" y2="762.0" stroke="#222" stroke-width="1"/>
<line x1="683.2" y1="762.0" x2="678.4" y2="762.0" stroke="#222" stroke-width="1"/>
<text x="38.3" y="766.4" font-size="8.8" fill="#1a1a1a" color="#1a1a1a" text-anchor="start" textLength="8.9" lengthAdjust="spacingAndGlyphs" style="stroke-width:0.1px">16</text>
<line x1="32" y1="765.47" x2="34.1" y2="765.47" stroke="#444" stroke-width="1"/>
<line x1="683.2" y1="765.47" x2="681.2" y2="765.47" stroke="#444" stroke-width="1"/>
<line x1="32" y1="769.57" x2="34.1" y2="769.57" stroke="#444" stroke-width="1"/>
<line x1="683.2" y1="769.57" x2="681.2" y2="769.57" stroke="#444" stroke-width="1"/>
<line x1="32" y1="773.66" x2="34.1" y2="773.66" stroke="#444" stroke-width="1"/>
<line x1="683.2" y1="773.66" x2="681.2" y2="773.66" stroke="#444" stroke-width="1"/>
<line x1="62.8" y1="179.5" x2="93.3" y2="179.5" stroke="#888" stroke-width="1" />
<line x1="93.3" y1="179.5" x2="121.4" y2="179.5" stroke="#4a4a4a" stroke-width="1" />
<line x1="121.4" y1="179.5" x2="168.3" y2="179.5" stroke="#888" stroke-width="1" />
<text x="78.7" y="178.0" font-size="7" fill="#1d4b8f" color="#1d4b8f" text-anchor="end" textLength="12.9" lengthAdjust="spacingAndGlyphs">1.80</text>
<text x="93.2" y="178.0" font-size="7" fill="#1d4b8f" color="#1d4b8f" text-anchor="end" textLength="12.3" lengthAdjust="spacingAndGlyphs">1.80</text>
<line x1="62.8" y1="335.5" x2="93.3" y2="335.5" stroke="#888" stroke-width="1" />
<line x1="93.3" y1="335.5" x2="121.4" y2="335.5" stroke="#4a4a4a" stroke-width="1" />
<line x1="121.4" y1="335.5" x2="168.3" y2="335.5" stroke="#888" stroke-width="1" />
<text x="78.7" y="334.1" font-size="7" fill="#1d4b8f" color="#1d4b8f" text-anchor="end" textLength="12.9" lengthAdjust="spacingAndGlyphs">3.80</text>
<text x="93.2" y="334.1" font-size="7" fill="#1d4b8f" color="#1d4b8f" text-anchor="end" textLength="12.3" lengthAdjust="spacingAndGlyphs">5.60</text>
<line x1="62.8" y1="419.5" x2="93.3" y2="419.5" stroke="#888" stroke-width="1" />
<line x1="93.3" y1="419.5" x2="121.4" y2="419.5" stroke="#4a4a4a" stroke-width="1" />
<line x1="121.4" y1="419.5" x2="168.3" y2="419.5" stroke="#888" stroke-width="1" />
<text x="78.7" y="418.15" font-size="7" fill="#1d4b8f" color="#1d4b8f" text-anchor="end" textLength="12.9" lengthAdjust="spacingAndGlyphs">2.05</text>
<text x="93.2" y="418.15" font-size="7" fill="#1d4b8f" color="#1d4b8f" text-anchor="end" textLength="12.3" lengthAdjust="spacingAndGlyphs">7.65</text>
<line x1="62.8" y1="450.5" x2="93.3" y2="450.5" stroke="#888" stroke-width="1" />
<line x1="93.3" y1="450.5" x2="121.4" y2="450.5" stroke="#4a4a4a" stroke-width="1" />
<line x1="121.4" y1="450.5" x2="168.3" y2="450.5" stroke="#888" stroke-width="1" />
<text x="78.7" y="448.9" font-size="7" fill="#1d4b8f" color="#1d4b8f" text-anchor="end" textLength="12.9" lengthAdjust="spacingAndGlyphs">0.75</text>
<text x="93.2" y="448.9" font-size="7" fill="#1d4b8f" color="#1d4b8f" text-anchor="end" textLength="12.3" lengthAdjust="spacingAndGlyphs">8.40</text>
<line x1="62.8" y1="497.5" x2="93.3" y2="497.5" stroke="#888" stroke-width="1" />
<line x1="93.3" y1="497.5" x2="121.4" y2="497.5" stroke="#4a4a4a" stroke-width="1" />
<line x1="121.4" y1="497.5" x2="168.3" y2="497.5" stroke="#888" stroke-width="1" />
<text x="78.7" y="496.05" font-size="7" fill="#1d4b8f" color="#1d4b8f" text-anchor="end" textLength="12.9" lengthAdjust="spacingAndGlyphs">1.15</text>
<text x="93.2" y="496.05" font-size="7" fill="#1d4b8f" color="#1d4b8f" text-anchor="end" textLength="12.3" lengthAdjust="spacingAndGlyphs">9.55</text>
<line x1="149.6" y1="134.5" x2="168.3" y2="134.5" stroke="#888" stroke-width="1" />
<text x="122.6" y="114.6" font-size="8.6" fill="#1d4b8f" color="#1d4b8f" text-anchor="start" >Bank</text>
<text x="122.6" y="125.6" font-size="8.6" fill="#1d4b8f" color="#1d4b8f" text-anchor="start" >Gravel</text>
<text x="122.6" y="135.6" font-size="8.6" fill="#1d4b8f" color="#1d4b8f" text-anchor="start" >(BS/G)</text>
<circle cx="143.7" cy="111.1" r="0.8" fill="#1d4b8f"/>
<text x="122.6" y="189.3" font-size="8.6" fill="#1d4b8f" color="#1d4b8f" text-anchor="start" >Sandy</text>
<text x="122.6" y="199.2" font-size="8.6" fill="#1d4b8f" color="#1d4b8f" text-anchor="start" >Silt</text>
<text x="122.6" y="209.7" font-size="8.6" fill="#1d4b8f" color="#1d4b8f" text-anchor="start" >(MS)</text>
<text x="122.0" y="344.6" font-size="8.6" fill="#1d4b8f" color="#1d4b8f" text-anchor="start" >Sand</text>
<text x="122.0" y="354.2" font-size="8.6" fill="#1d4b8f" color="#1d4b8f" text-anchor="start" >with</text>
<text x="122.0" y="364.6" font-size="8.6" fill="#1d4b8f" color="#1d4b8f" text-anchor="start" >Silt</text>
<text x="122.0" y="375.2" font-size="8.6" fill="#1d4b8f" color="#1d4b8f" text-anchor="start" >(S-M)</text>
<text x="122.6" y="425.7" font-size="8.6" fill="#1d4b8f" color="#1d4b8f" text-anchor="start" >Clay</text>
<text x="122.6" y="433.5" font-size="8.6" fill="#1d4b8f" color="#1d4b8f" text-anchor="start" >with</text>
<text x="122.6" y="441.3" font-size="8.6" fill="#1d4b8f" color="#1d4b8f" text-anchor="start" >Sand</text>
<text x="122.6" y="449.0" font-size="8.6" fill="#1d4b8f" color="#1d4b8f" text-anchor="start" >(CH-S)</text>
<text x="122.6" y="459.0" font-size="8.6" fill="#1d4b8f" color="#1d4b8f" text-anchor="start" >Silt</text>
<text x="122.6" y="467.7" font-size="8.6" fill="#1d4b8f" color="#1d4b8f" text-anchor="start" >with</text>
<text x="122.6" y="478.6" font-size="8.6" fill="#1d4b8f" color="#1d4b8f" text-anchor="start" >Sand</text>
<text x="122.6" y="487.0" font-size="8.6" fill="#1d4b8f" color="#1d4b8f" text-anchor="start" >(M-S)</text>
<text x="123.7" y="505.7" font-size="8.6" fill="#1d4b8f" color="#1d4b8f" text-anchor="start" >Sand</text>
<text x="123.7" y="518.0" font-size="8.6" fill="#1d4b8f" color="#1d4b8f" text-anchor="start" >(SF)</text>
<text transform="translate(158.3,121.0) rotate(-90)" font-size="9.1" fill="#14506e" color="#14506e" text-anchor="middle" >Dark</text>
<text transform="translate(167.0,120.2) rotate(-90)" font-size="9.3" fill="#14506e" color="#14506e" text-anchor="middle" >Brown</text>
<text transform="translate(157.2,156.9) rotate(-90)" font-size="9.3" fill="#14506e" color="#14506e" text-anchor="middle" >Brown</text>
<text transform="translate(166.2,157.5) rotate(-90)" font-size="9.1" fill="#14506e" color="#14506e" text-anchor="middle" >Gray</text>
<text transform="translate(164.1,257.0) rotate(-90) scale(1,1.1)" font-size="10.7" fill="#14506e" color="#14506e" text-anchor="middle" >Dark Brown</text>
<text transform="translate(163.0,371.0) rotate(-90) scale(1,1.1)" font-size="10.5" fill="#14506e" color="#14506e" text-anchor="middle" >Dark Gray</text>
<text transform="translate(157.3,432.8) rotate(-90)" font-size="8.8" fill="#14506e" color="#14506e" text-anchor="middle" >Black</text>
<text transform="translate(166.2,433.0) rotate(-90)" font-size="9.1" fill="#14506e" color="#14506e" text-anchor="middle" >Gray</text>
<text transform="translate(164.1,469.6) rotate(-90) scale(1,1.1)" font-size="10.4" fill="#14506e" color="#14506e" text-anchor="middle" >Gray</text>
<text transform="translate(163.0,632.8) rotate(-90) scale(1,1.1)" font-size="10.5" fill="#14506e" color="#14506e" text-anchor="middle" >Dark Gray</text>
<line x1="325.7" y1="194.5" x2="340.2" y2="194.5" stroke="#555" stroke-width="1" />
<text x="340.0" y="191.05" font-size="10.4" fill="#1d4b8f" color="#1d4b8f" text-anchor="end" textLength="19.4" lengthAdjust="spacingAndGlyphs">2.15</text>
<line x1="325.7" y1="206.5" x2="395.4" y2="206.5" stroke="#444" stroke-width="1" />
<text x="340.0" y="216.25" font-size="10.4" fill="#1d4b8f" color="#1d4b8f" text-anchor="end" textLength="19.4" lengthAdjust="spacingAndGlyphs">2.45</text>
<text x="342.3" y="197.65" font-size="9.4" fill="#1d4b8f" color="#1d4b8f" text-anchor="start" >1</text>
<line x1="341.3" y1="200.05" x2="350.13" y2="197.15" stroke="#1d4b8f" stroke-width="0.7" />
<text x="345.53" y="205.95" font-size="9.4" fill="#1d4b8f" color="#1d4b8f" text-anchor="start" class="den">15</text>
<text x="355.8" y="197.65" font-size="9.4" fill="#1d4b8f" color="#1d4b8f" text-anchor="start" >1</text>
<line x1="354.8" y1="200.05" x2="363.63" y2="197.15" stroke="#1d4b8f" stroke-width="0.7" />
<text x="359.03" y="205.95" font-size="9.4" fill="#1d4b8f" color="#1d4b8f" text-anchor="start" class="den">15</text>
<text x="383.5" y="197.65" font-size="9.4" fill="#1d4b8f" color="#1d4b8f" text-anchor="start" >2</text>
<line x1="382.5" y1="200.05" x2="391.33" y2="197.15" stroke="#1d4b8f" stroke-width="0.7" />
<text x="386.73" y="205.95" font-size="9.4" fill="#1d4b8f" color="#1d4b8f" text-anchor="start" class="den">30</text>
<text x="407.2" y="207.46" font-size="10.9" fill="#ad3a40" color="#ad3a40" text-anchor="middle" >2</text>
<line x1="325.7" y1="235.5" x2="340.2" y2="235.5" stroke="#555" stroke-width="1" />
<text x="340.0" y="232.05" font-size="10.4" fill="#1d4b8f" color="#1d4b8f" text-anchor="end" textLength="19.4" lengthAdjust="spacingAndGlyphs">3.15</text>
<line x1="325.7" y1="247.5" x2="395.4" y2="247.5" stroke="#444" stroke-width="1" />
<text x="340.0" y="257.25" font-size="10.4" fill="#1d4b8f" color="#1d4b8f" text-anchor="end" textLength="19.4" lengthAdjust="spacingAndGlyphs">3.45</text>
<text x="347.9" y="246.95" font-size="9.4" fill="#1d4b8f" color="#1d4b8f" text-anchor="middle" >2</text>
<text x="361.4" y="246.95" font-size="9.4" fill="#1d4b8f" color="#1d4b8f" text-anchor="middle" >2</text>
<text x="375.1" y="246.95" font-size="9.4" fill="#1d4b8f" color="#1d4b8f" text-anchor="middle" >1</text>
<text x="383.5" y="238.65" font-size="9.4" fill="#1d4b8f" color="#1d4b8f" text-anchor="start" >5</text>
<line x1="382.5" y1="241.05" x2="391.33" y2="238.15" stroke="#1d4b8f" stroke-width="0.7" />
<text x="386.73" y="246.95" font-size="9.4" fill="#1d4b8f" color="#1d4b8f" text-anchor="start" class="den">30</text>
<text x="407.2" y="248.46" font-size="10.9" fill="#ad3a40" color="#ad3a40" text-anchor="middle" >5</text>
<line x1="325.7" y1="270.5" x2="340.2" y2="270.5" stroke="#555" stroke-width="1" />
<text x="340.0" y="266.9" font-size="10.4" fill="#1d4b8f" color="#1d4b8f" text-anchor="end" textLength="19.4" lengthAdjust="spacingAndGlyphs">4.00</text>
<line x1="325.7" y1="288.5" x2="395.4" y2="288.5" stroke="#444" stroke-width="1" />
<text x="340.0" y="298.25" font-size="10.4" fill="#1d4b8f" color="#1d4b8f" text-anchor="end" textLength="19.4" lengthAdjust="spacingAndGlyphs">4.45</text>
<text x="342.3" y="279.65" font-size="9.4" fill="#1d4b8f" color="#1d4b8f" text-anchor="start" >0</text>
<line x1="341.3" y1="282.05" x2="350.13" y2="279.15" stroke="#1d4b8f" stroke-width="0.7" />
<text x="345.53" y="287.95" font-size="9.4" fill="#1d4b8f" color="#1d4b8f" text-anchor="start" class="den">45</text>
<text x="383.5" y="279.65" font-size="9.4" fill="#1d4b8f" color="#1d4b8f" text-anchor="start" >0</text>
<line x1="382.5" y1="282.05" x2="391.33" y2="279.15" stroke="#1d4b8f" stroke-width="0.7" />
<text x="386.73" y="287.95" font-size="9.4" fill="#1d4b8f" color="#1d4b8f" text-anchor="start" class="den">45</text>
<text x="407.2" y="287.12" font-size="10.9" fill="#ad3a40" color="#ad3a40" text-anchor="middle" >0</text>
<line x1="325.7" y1="317.5" x2="340.2" y2="317.5" stroke="#555" stroke-width="1" />
<text x="334.0" y="313.85" font-size="10" fill="#1d4b8f" color="#1d4b8f" text-anchor="end" >5.1</text>
<text x="340.8" y="313.85" font-size="10" fill="#1d4b8f" color="#1d4b8f" text-anchor="start" >5</text>
<line x1="325.7" y1="329.5" x2="395.4" y2="329.5" stroke="#444" stroke-width="1" />
<text x="340.0" y="339.25" font-size="10.4" fill="#1d4b8f" color="#1d4b8f" text-anchor="end" textLength="19.4" lengthAdjust="spacingAndGlyphs">5.45</text>
<text x="343.4" y="319.35" font-size="9.4" fill="#1d4b8f" color="#1d4b8f" text-anchor="start" >1</text>
<line x1="342.4" y1="323.05" x2="351.23" y2="321.97" stroke="#1d4b8f" stroke-width="0.7" />
<text x="346.63" y="328.95" font-size="9.4" fill="#1d4b8f" color="#1d4b8f" text-anchor="start" class="den">20</text>
<text x="361.4" y="328.95" font-size="9.4" fill="#1d4b8f" color="#1d4b8f" text-anchor="middle" >1</text>
<text x="383.5" y="320.65" font-size="9.4" fill="#1d4b8f" color="#1d4b8f" text-anchor="start" >2</text>
<line x1="382.5" y1="323.05" x2="391.33" y2="320.15" stroke="#1d4b8f" stroke-width="0.7" />
<text x="386.73" y="328.95" font-size="9.4" fill="#1d4b8f" color="#1d4b8f" text-anchor="start" class="den">30</text>
<text x="407.2" y="330.46" font-size="10.9" fill="#ad3a40" color="#ad3a40" text-anchor="middle" >2</text>
<line x1="325.7" y1="358.5" x2="340.2" y2="358.5" stroke="#555" stroke-width="1" />
<text x="340.0" y="355.05" font-size="10.4" fill="#1d4b8f" color="#1d4b8f" text-anchor="end" textLength="19.4" lengthAdjust="spacingAndGlyphs">6.15</text>
<line x1="325.7" y1="370.5" x2="395.4" y2="370.5" stroke="#444" stroke-width="1" />
<text x="340.0" y="380.25" font-size="10.4" fill="#1d4b8f" color="#1d4b8f" text-anchor="end" textLength="19.4" lengthAdjust="spacingAndGlyphs">6.45</text>
<text x="347.9" y="369.95" font-size="9.4" fill="#1d4b8f" color="#1d4b8f" text-anchor="middle" >6</text>
<text x="361.4" y="369.95" font-size="9.4" fill="#1d4b8f" color="#1d4b8f" text-anchor="middle" >7</text>
<text x="375.1" y="369.95" font-size="9.4" fill="#1d4b8f" color="#1d4b8f" text-anchor="middle" >8</text>
<text x="383.6" y="361.65" font-size="9.4" fill="#1d4b8f" color="#1d4b8f" text-anchor="start" >21</text>
<line x1="382.6" y1="364.05" x2="396.65" y2="361.15" stroke="#1d4b8f" stroke-width="0.7" />
<text x="385.4" y="369.95" font-size="9.4" fill="#1d4b8f" color="#1d4b8f" text-anchor="start" class="den">30</text>
<text x="407.2" y="371.46" font-size="10.9" fill="#ad3a40" color="#ad3a40" text-anchor="middle" >21</text>
<line x1="325.7" y1="399.5" x2="340.2" y2="399.5" stroke="#555" stroke-width="1" />
<text x="340.0" y="396.05" font-size="10.4" fill="#1d4b8f" color="#1d4b8f" text-anchor="end" textLength="19.4" lengthAdjust="spacingAndGlyphs">7.15</text>
<line x1="325.7" y1="411.5" x2="395.4" y2="411.5" stroke="#444" stroke-width="1" />
<text x="340.0" y="421.25" font-size="10.4" fill="#1d4b8f" color="#1d4b8f" text-anchor="end" textLength="19.4" lengthAdjust="spacingAndGlyphs">7.45</text>
<text x="347.9" y="410.95" font-size="9.4" fill="#1d4b8f" color="#1d4b8f" text-anchor="middle" >6</text>
<text x="361.4" y="410.95" font-size="9.4" fill="#1d4b8f" color="#1d4b8f" text-anchor="middle" >8</text>
<text x="375.1" y="410.95" font-size="9.4" fill="#1d4b8f" color="#1d4b8f" text-anchor="middle" >9</text>
<text x="383.6" y="402.65" font-size="9.4" fill="#1d4b8f" color="#1d4b8f" text-anchor="start" >23</text>
<line x1="382.6" y1="405.05" x2="396.65" y2="402.15" stroke="#1d4b8f" stroke-width="0.7" />
<text x="385.4" y="410.95" font-size="9.4" fill="#1d4b8f" color="#1d4b8f" text-anchor="start" class="den">30</text>
<text x="407.2" y="412.46" font-size="10.9" fill="#ad3a40" color="#ad3a40" text-anchor="middle" >23</text>
<line x1="325.7" y1="440.5" x2="340.2" y2="440.5" stroke="#555" stroke-width="1" />
<text x="340.0" y="437.05" font-size="10.4" fill="#1d4b8f" color="#1d4b8f" text-anchor="end" textLength="19.4" lengthAdjust="spacingAndGlyphs">8.15</text>
<line x1="325.7" y1="452.5" x2="395.4" y2="452.5" stroke="#444" stroke-width="1" />
<text x="340.0" y="462.25" font-size="10.4" fill="#1d4b8f" color="#1d4b8f" text-anchor="end" textLength="19.4" lengthAdjust="spacingAndGlyphs">8.45</text>
<text x="342.3" y="443.65" font-size="9.4" fill="#1d4b8f" color="#1d4b8f" text-anchor="start" >1</text>
<line x1="341.3" y1="446.05" x2="350.13" y2="443.15" stroke="#1d4b8f" stroke-width="0.7" />
<text x="345.53" y="451.95" font-size="9.4" fill="#1d4b8f" color="#1d4b8f" text-anchor="start" class="den">30</text>
<text x="383.5" y="443.65" font-size="9.4" fill="#1d4b8f" color="#1d4b8f" text-anchor="start" >1</text>
<line x1="382.5" y1="446.05" x2="391.33" y2="443.15" stroke="#1d4b8f" stroke-width="0.7" />
<text x="386.73" y="451.95" font-size="9.4" fill="#1d4b8f" color="#1d4b8f" text-anchor="start" class="den">30</text>
<text x="407.2" y="453.46" font-size="10.9" fill="#ad3a40" color="#ad3a40" text-anchor="middle" >1</text>
<line x1="325.7" y1="481.5" x2="340.2" y2="481.5" stroke="#555" stroke-width="1" />
<text x="340.0" y="478.05" font-size="10.4" fill="#1d4b8f" color="#1d4b8f" text-anchor="end" textLength="19.4" lengthAdjust="spacingAndGlyphs">9.15</text>
<line x1="325.7" y1="493.5" x2="395.4" y2="493.5" stroke="#444" stroke-width="1" />
<text x="340.0" y="503.25" font-size="10.4" fill="#1d4b8f" color="#1d4b8f" text-anchor="end" textLength="19.4" lengthAdjust="spacingAndGlyphs">9.45</text>
<text x="347.9" y="492.95" font-size="9.4" fill="#1d4b8f" color="#1d4b8f" text-anchor="middle" >2</text>
<text x="361.4" y="492.95" font-size="9.4" fill="#1d4b8f" color="#1d4b8f" text-anchor="middle" >1</text>
<text x="375.1" y="492.95" font-size="9.4" fill="#1d4b8f" color="#1d4b8f" text-anchor="middle" >2</text>
<text x="383.5" y="484.65" font-size="9.4" fill="#1d4b8f" color="#1d4b8f" text-anchor="start" >5</text>
<line x1="382.5" y1="487.05" x2="391.33" y2="484.15" stroke="#1d4b8f" stroke-width="0.7" />
<text x="386.73" y="492.95" font-size="9.4" fill="#1d4b8f" color="#1d4b8f" text-anchor="start" class="den">30</text>
<text x="407.2" y="494.46" font-size="10.9" fill="#ad3a40" color="#ad3a40" text-anchor="middle" >5</text>
<line x1="325.7" y1="522.5" x2="340.2" y2="522.5" stroke="#555" stroke-width="1" />
<text x="340.0" y="519.05" font-size="10.4" fill="#1d4b8f" color="#1d4b8f" text-anchor="end" textLength="24.7" lengthAdjust="spacingAndGlyphs">10.15</text>
<line x1="325.7" y1="534.5" x2="395.4" y2="534.5" stroke="#444" stroke-width="1" />
<text x="340.0" y="544.25" font-size="10.4" fill="#1d4b8f" color="#1d4b8f" text-anchor="end" textLength="24.7" lengthAdjust="spacingAndGlyphs">10.45</text>
<text x="342.3" y="525.65" font-size="9.4" fill="#1d4b8f" color="#1d4b8f" text-anchor="start" >1</text>
<line x1="341.3" y1="528.05" x2="350.13" y2="525.15" stroke="#1d4b8f" stroke-width="0.7" />
<text x="345.53" y="533.95" font-size="9.4" fill="#1d4b8f" color="#1d4b8f" text-anchor="start" class="den">15</text>
<text x="355.8" y="525.65" font-size="9.4" fill="#1d4b8f" color="#1d4b8f" text-anchor="start" >1</text>
<line x1="354.8" y1="528.05" x2="363.63" y2="525.15" stroke="#1d4b8f" stroke-width="0.7" />
<text x="359.03" y="533.95" font-size="9.4" fill="#1d4b8f" color="#1d4b8f" text-anchor="start" class="den">15</text>
<text x="383.5" y="525.65" font-size="9.4" fill="#1d4b8f" color="#1d4b8f" text-anchor="start" >2</text>
<line x1="382.5" y1="528.05" x2="391.33" y2="525.15" stroke="#1d4b8f" stroke-width="0.7" />
<text x="386.73" y="533.95" font-size="9.4" fill="#1d4b8f" color="#1d4b8f" text-anchor="start" class="den">30</text>
<text x="407.2" y="535.46" font-size="10.9" fill="#ad3a40" color="#ad3a40" text-anchor="middle" >2</text>
<line x1="325.7" y1="563.5" x2="340.2" y2="563.5" stroke="#555" stroke-width="1" />
<text x="340.0" y="560.05" font-size="10.4" fill="#1d4b8f" color="#1d4b8f" text-anchor="end" textLength="24.7" lengthAdjust="spacingAndGlyphs">11.15</text>
<line x1="325.7" y1="575.5" x2="395.4" y2="575.5" stroke="#444" stroke-width="1" />
<text x="340.0" y="585.25" font-size="10.4" fill="#1d4b8f" color="#1d4b8f" text-anchor="end" textLength="24.7" lengthAdjust="spacingAndGlyphs">11.45</text>
<text x="347.9" y="574.95" font-size="9.4" fill="#1d4b8f" color="#1d4b8f" text-anchor="middle" >6</text>
<text x="361.4" y="574.95" font-size="9.4" fill="#1d4b8f" color="#1d4b8f" text-anchor="middle" >6</text>
<text x="375.1" y="574.95" font-size="9.4" fill="#1d4b8f" color="#1d4b8f" text-anchor="middle" >7</text>
<text x="383.6" y="566.65" font-size="9.4" fill="#1d4b8f" color="#1d4b8f" text-anchor="start" >19</text>
<line x1="382.6" y1="569.05" x2="396.65" y2="566.15" stroke="#1d4b8f" stroke-width="0.7" />
<text x="385.4" y="574.95" font-size="9.4" fill="#1d4b8f" color="#1d4b8f" text-anchor="start" class="den">30</text>
<text x="407.2" y="576.46" font-size="10.9" fill="#ad3a40" color="#ad3a40" text-anchor="middle" >19</text>
<line x1="325.7" y1="604.5" x2="340.2" y2="604.5" stroke="#555" stroke-width="1" />
<text x="340.0" y="601.05" font-size="10.4" fill="#1d4b8f" color="#1d4b8f" text-anchor="end" textLength="24.7" lengthAdjust="spacingAndGlyphs">12.15</text>
<line x1="325.7" y1="616.5" x2="395.4" y2="616.5" stroke="#444" stroke-width="1" />
<text x="340.0" y="626.25" font-size="10.4" fill="#1d4b8f" color="#1d4b8f" text-anchor="end" textLength="24.7" lengthAdjust="spacingAndGlyphs">12.45</text>
<text x="347.9" y="615.95" font-size="9.4" fill="#1d4b8f" color="#1d4b8f" text-anchor="middle" >2</text>
<text x="361.4" y="615.95" font-size="9.4" fill="#1d4b8f" color="#1d4b8f" text-anchor="middle" >2</text>
<text x="375.1" y="615.95" font-size="9.4" fill="#1d4b8f" color="#1d4b8f" text-anchor="middle" >3</text>
<text x="383.5" y="607.65" font-size="9.4" fill="#1d4b8f" color="#1d4b8f" text-anchor="start" >7</text>
<line x1="382.5" y1="610.05" x2="391.33" y2="607.15" stroke="#1d4b8f" stroke-width="0.7" />
<text x="386.73" y="615.95" font-size="9.4" fill="#1d4b8f" color="#1d4b8f" text-anchor="start" class="den">30</text>
<text x="407.2" y="617.46" font-size="10.9" fill="#ad3a40" color="#ad3a40" text-anchor="middle" >7</text>
<line x1="325.7" y1="645.5" x2="340.2" y2="645.5" stroke="#555" stroke-width="1" />
<text x="340.0" y="642.05" font-size="10.4" fill="#1d4b8f" color="#1d4b8f" text-anchor="end" textLength="24.7" lengthAdjust="spacingAndGlyphs">13.15</text>
<line x1="325.7" y1="657.5" x2="395.4" y2="657.5" stroke="#444" stroke-width="1" />
<text x="340.0" y="667.25" font-size="10.4" fill="#1d4b8f" color="#1d4b8f" text-anchor="end" textLength="24.7" lengthAdjust="spacingAndGlyphs">13.45</text>
<text x="347.9" y="656.95" font-size="9.4" fill="#1d4b8f" color="#1d4b8f" text-anchor="middle" >6</text>
<text x="361.4" y="656.95" font-size="9.4" fill="#1d4b8f" color="#1d4b8f" text-anchor="middle" >7</text>
<text x="375.1" y="656.95" font-size="9.4" fill="#1d4b8f" color="#1d4b8f" text-anchor="middle" >8</text>
<text x="383.6" y="648.65" font-size="9.4" fill="#1d4b8f" color="#1d4b8f" text-anchor="start" >21</text>
<line x1="382.6" y1="651.05" x2="396.65" y2="648.15" stroke="#1d4b8f" stroke-width="0.7" />
<text x="385.4" y="656.95" font-size="9.4" fill="#1d4b8f" color="#1d4b8f" text-anchor="start" class="den">30</text>
<text x="407.2" y="658.46" font-size="10.9" fill="#ad3a40" color="#ad3a40" text-anchor="middle" >21</text>
<line x1="325.7" y1="686.5" x2="340.2" y2="686.5" stroke="#555" stroke-width="1" />
<text x="340.0" y="683.05" font-size="10.4" fill="#1d4b8f" color="#1d4b8f" text-anchor="end" textLength="24.7" lengthAdjust="spacingAndGlyphs">14.15</text>
<line x1="325.7" y1="698.5" x2="395.4" y2="698.5" stroke="#444" stroke-width="1" />
<text x="340.0" y="708.25" font-size="10.4" fill="#1d4b8f" color="#1d4b8f" text-anchor="end" textLength="24.7" lengthAdjust="spacingAndGlyphs">14.45</text>
<text x="347.9" y="697.95" font-size="9.4" fill="#1d4b8f" color="#1d4b8f" text-anchor="middle" >6</text>
<text x="361.4" y="697.95" font-size="9.4" fill="#1d4b8f" color="#1d4b8f" text-anchor="middle" >7</text>
<text x="375.1" y="697.95" font-size="9.4" fill="#1d4b8f" color="#1d4b8f" text-anchor="middle" >7</text>
<text x="383.6" y="689.65" font-size="9.4" fill="#1d4b8f" color="#1d4b8f" text-anchor="start" >20</text>
<line x1="382.6" y1="692.05" x2="396.65" y2="689.15" stroke="#1d4b8f" stroke-width="0.7" />
<text x="385.4" y="697.95" font-size="9.4" fill="#1d4b8f" color="#1d4b8f" text-anchor="start" class="den">30</text>
<text x="407.2" y="699.46" font-size="10.9" fill="#ad3a40" color="#ad3a40" text-anchor="middle" >20</text>
<line x1="325.7" y1="727.5" x2="340.2" y2="727.5" stroke="#555" stroke-width="1" />
<text x="340.0" y="724.05" font-size="10.4" fill="#1d4b8f" color="#1d4b8f" text-anchor="end" textLength="24.7" lengthAdjust="spacingAndGlyphs">15.15</text>
<line x1="325.7" y1="739.5" x2="395.4" y2="739.5" stroke="#444" stroke-width="1" />
<text x="340.0" y="749.25" font-size="10.4" fill="#1d4b8f" color="#1d4b8f" text-anchor="end" textLength="24.7" lengthAdjust="spacingAndGlyphs">15.45</text>
<text x="347.9" y="738.95" font-size="9.4" fill="#1d4b8f" color="#1d4b8f" text-anchor="middle" >2</text>
<text x="361.4" y="738.95" font-size="9.4" fill="#1d4b8f" color="#1d4b8f" text-anchor="middle" >2</text>
<text x="375.1" y="738.95" font-size="9.4" fill="#1d4b8f" color="#1d4b8f" text-anchor="middle" >3</text>
<text x="383.5" y="730.65" font-size="9.4" fill="#1d4b8f" color="#1d4b8f" text-anchor="start" >7</text>
<line x1="382.5" y1="733.05" x2="391.33" y2="730.15" stroke="#1d4b8f" stroke-width="0.7" />
<text x="386.73" y="738.95" font-size="9.4" fill="#1d4b8f" color="#1d4b8f" text-anchor="start" class="den">30</text>
<text x="407.2" y="740.46" font-size="10.9" fill="#ad3a40" color="#ad3a40" text-anchor="middle" >7</text>
<line x1="325.7" y1="768.5" x2="340.2" y2="768.5" stroke="#555" stroke-width="1" />
<text x="340.0" y="765.05" font-size="10.4" fill="#1d4b8f" color="#1d4b8f" text-anchor="end" textLength="24.7" lengthAdjust="spacingAndGlyphs">16.15</text>
<text x="347.9" y="778.3" font-size="9.4" fill="#1d4b8f" color="#1d4b8f" text-anchor="middle" >7</text>
<text x="361.4" y="778.3" font-size="9.4" fill="#1d4b8f" color="#1d4b8f" text-anchor="middle" >7</text>
<text x="375.1" y="778.3" font-size="9.4" fill="#1d4b8f" color="#1d4b8f" text-anchor="middle" >8</text>
<text x="383.6" y="770.0" font-size="9.4" fill="#1d4b8f" color="#1d4b8f" text-anchor="start" >22</text>
<line x1="382.6" y1="772.4" x2="396.65" y2="769.5" stroke="#1d4b8f" stroke-width="0.7" />
<text x="385.4" y="778.3" font-size="9.4" fill="#1d4b8f" color="#1d4b8f" text-anchor="start" class="den">30</text>
<text x="407.2" y="779.6" font-size="10.9" fill="#ad3a40" color="#ad3a40" text-anchor="middle" >22</text>
<polyline points="411.96,199.36 418.21,240.36 407.8,279.02 411.96,322.36 451.52,363.36 455.69,404.36 409.88,445.36 418.21,486.36 411.96,527.36 447.36,568.36 422.37,609.36 451.52,650.36 449.44,691.36 422.37,732.36 453.6,773.36" fill="none" stroke="#ad3a40" stroke-width="0.9"/>
<circle cx="411.96" cy="199.36" r="1.7" fill="#ad3a40"/>
<circle cx="418.21" cy="240.36" r="1.7" fill="#ad3a40"/>
<circle cx="407.8" cy="279.02" r="1.7" fill="#ad3a40"/>
<circle cx="411.96" cy="322.36" r="1.7" fill="#ad3a40"/>
<circle cx="451.52" cy="363.36" r="1.7" fill="#ad3a40"/>
<circle cx="455.69" cy="404.36" r="1.7" fill="#ad3a40"/>
<circle cx="409.88" cy="445.36" r="1.7" fill="#ad3a40"/>
<circle cx="418.21" cy="486.36" r="1.7" fill="#ad3a40"/>
<circle cx="411.96" cy="527.36" r="1.7" fill="#ad3a40"/>
<circle cx="447.36" cy="568.36" r="1.7" fill="#ad3a40"/>
<circle cx="422.37" cy="609.36" r="1.7" fill="#ad3a40"/>
<circle cx="451.52" cy="650.36" r="1.7" fill="#ad3a40"/>
<circle cx="449.44" cy="691.36" r="1.7" fill="#ad3a40"/>
<circle cx="422.37" cy="732.36" r="1.7" fill="#ad3a40"/>
<circle cx="453.6" cy="773.36" r="1.7" fill="#ad3a40"/>
<text x="325.2" y="284.25" font-size="10" fill="#1d4b8f" color="#1d4b8f" text-anchor="end" >4.50</text>
<path d="M311.20000000000005,286.84999999999997 L318.0,286.84999999999997 L314.6,290.65 Z" fill="none" stroke="#1d4b8f" stroke-width="0.7"/>
<line x1="307.40000000000003" y1="291.5" x2="321.40000000000003" y2="291.5" stroke="#1d4b8f" stroke-width="0.7" />
<line x1="309.70000000000005" y1="293.5" x2="319.70000000000005" y2="293.5" stroke="#1d4b8f" stroke-width="0.7" />
<line x1="311.6" y1="296.5" x2="317.6" y2="296.5" stroke="#1d4b8f" stroke-width="0.7" />
<text x="325.2" y="325.25" font-size="10" fill="#1d4b8f" color="#1d4b8f" text-anchor="end" >5.50</text>
<path d="M311.20000000000005,327.84999999999997 L318.0,327.84999999999997 L314.6,331.65 Z" fill="none" stroke="#1d4b8f" stroke-width="0.7"/>
<line x1="307.40000000000003" y1="332.5" x2="321.40000000000003" y2="332.5" stroke="#1d4b8f" stroke-width="0.7" />
<line x1="309.70000000000005" y1="334.5" x2="319.70000000000005" y2="334.5" stroke="#1d4b8f" stroke-width="0.7" />
<line x1="311.6" y1="337.5" x2="317.6" y2="337.5" stroke="#1d4b8f" stroke-width="0.7" />
<line x1="598.7" y1="270.5" x2="614.3" y2="270.5" stroke="#555" stroke-width="1" />
<line x1="598.7" y1="311.5" x2="614.3" y2="311.5" stroke="#777" stroke-width="1" />
<text x="599.6" y="268.4" font-size="8.8" fill="#1d4b8f" color="#1d4b8f" text-anchor="start" >4.00</text>
<text x="599.6" y="319.4" font-size="8.8" fill="#1d4b8f" color="#1d4b8f" text-anchor="start" >5.00</text>
<text x="614.5" y="294.3" font-size="10.3" fill="#1d4b8f" color="#1d4b8f" text-anchor="start" textLength="13.5" lengthAdjust="spacingAndGlyphs">T-1</text>
<circle cx="637.2" cy="290.1" r="4.4" fill="#fff" fill-opacity="0" stroke="#1d4b8f" stroke-width="0.85" stroke-opacity="0.85"/>
<path d="M635.4000000000001,286.9 L639.0,286.9 M637.2,286.9 L637.2,293.8" fill="none" stroke="#1d4b8f" stroke-width="1.0" stroke-opacity="0.8"/>
<line x1="598.7" y1="419.5" x2="614.3" y2="419.5" stroke="#555" stroke-width="1" />
<line x1="598.7" y1="460.5" x2="614.3" y2="460.5" stroke="#777" stroke-width="1" />
<text x="599.6" y="418.05" font-size="8.8" fill="#1d4b8f" color="#1d4b8f" text-anchor="start" >7.65</text>
<text x="599.6" y="469.05" font-size="8.8" fill="#1d4b8f" color="#1d4b8f" text-anchor="start" >8.65</text>
<text x="614.5" y="443.95" font-size="10.3" fill="#1d4b8f" color="#1d4b8f" text-anchor="start" textLength="13.5" lengthAdjust="spacingAndGlyphs">T-2</text>
<circle cx="637.2" cy="439.75" r="4.4" fill="#fff" fill-opacity="0" stroke="#1d4b8f" stroke-width="0.85" stroke-opacity="0.85"/>
<path d="M635.4000000000001,436.55 L639.0,436.55 M637.2,436.55 L637.2,443.45" fill="none" stroke="#1d4b8f" stroke-width="1.0" stroke-opacity="0.8"/>
<line x1="598.7" y1="639.5" x2="614.3" y2="639.5" stroke="#555" stroke-width="1" />
<line x1="598.7" y1="680.5" x2="614.3" y2="680.5" stroke="#777" stroke-width="1" />
<text x="599.6" y="637.4" font-size="8.8" fill="#1d4b8f" color="#1d4b8f" text-anchor="start" >13.00</text>
<text x="599.6" y="688.4" font-size="8.8" fill="#1d4b8f" color="#1d4b8f" text-anchor="start" >14.00</text>
<text x="614.5" y="663.3" font-size="10.3" fill="#1d4b8f" color="#1d4b8f" text-anchor="start" textLength="17.8" lengthAdjust="spacingAndGlyphs">Tr-3</text>
<circle cx="637.2" cy="659.1" r="4.4" fill="#fff" fill-opacity="0" stroke="#1d4b8f" stroke-width="0.85" stroke-opacity="0.85"/>
<text x="637.3" y="662.35" font-size="9" fill="#1d4b8f" color="#1d4b8f" text-anchor="middle" textLength="4.3" lengthAdjust="spacingAndGlyphs" style="stroke-width:0.1px">R</text>
</svg>
</body>
</html>
